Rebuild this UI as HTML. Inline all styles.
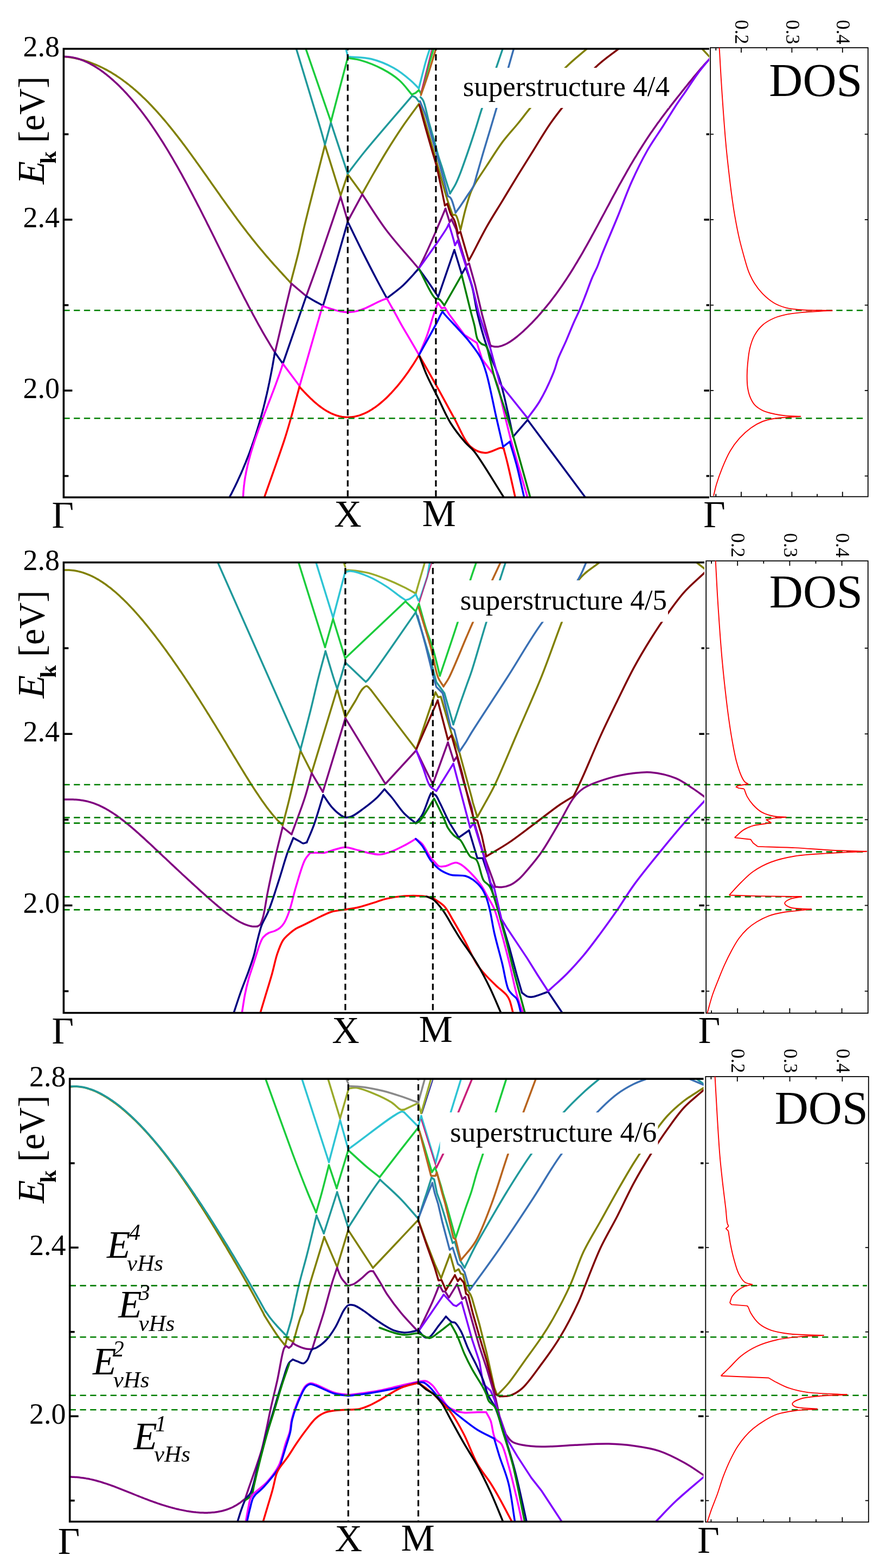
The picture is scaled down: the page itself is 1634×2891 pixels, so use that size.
<!DOCTYPE html>
<html><head><meta charset="utf-8"><title>Band structure and DOS of superstructures</title>
<style>html,body{margin:0;padding:0;background:#fff;}svg{display:block;}svg text{fill:#000;font-family:"Liberation Serif","Times New Roman",serif;}</style></head>
<body>
<svg xmlns="http://www.w3.org/2000/svg" width="1634" height="2891" viewBox="0 0 1634 2891">
<rect x="0" y="0" width="1634" height="2891" fill="#fff"/>
<clipPath id="c0"><rect x="117.4" y="90.0" width="1190.6" height="827.0"/></clipPath>
<g clip-path="url(#c0)" fill="none" stroke-width="3.5" stroke-linejoin="round" stroke-linecap="round">
<path d="M117.5,104.4 L120.0,104.6 L122.5,104.9 L125.1,105.1 L127.6,105.5 L130.1,105.8 L132.6,106.2 L135.1,106.7 L137.7,107.1 L140.2,107.7 L142.7,108.2 L145.2,108.8 L147.8,109.4 L150.3,110.1 L152.8,110.8 L155.3,111.5 L157.8,112.3 L160.4,113.1 L162.9,114.0 L165.4,114.9 L167.9,115.8 L170.4,116.8 L173.0,117.8 L175.5,118.8 L178.0,119.9 L180.5,121.0 L183.0,122.1 L185.6,123.3 L188.1,124.5 L190.6,125.8 L193.1,127.1 L195.7,128.4 L198.2,129.8 L200.7,131.2 L203.2,132.6 L205.7,134.1 L208.3,135.7 L210.8,137.2 L213.3,138.8 L215.8,140.5 L218.3,142.1 L220.9,143.9 L223.4,145.6 L225.9,147.4 L228.4,149.3 L230.9,151.1 L233.5,153.1 L236.0,155.0 L238.5,157.0 L241.0,159.1 L243.6,161.1 L246.1,163.3 L248.6,165.4 L251.1,167.6 L253.6,169.8 L256.2,172.1 L258.7,174.4 L261.2,176.8 L263.7,179.2 L266.2,181.6 L268.8,184.1 L271.3,186.6 L273.8,189.1 L276.3,191.7 L278.8,194.3 L281.4,197.0 L283.9,199.7 L286.4,202.4 L288.9,205.2 L291.5,208.0 L294.0,210.8 L296.5,213.7 L299.0,216.6 L301.5,219.5 L304.1,222.5 L306.6,225.5 L309.1,228.5 L311.6,231.6 L314.1,234.7 L316.7,237.8 L319.2,241.0 L321.7,244.1 L324.2,247.4 L326.8,250.6 L329.3,253.8 L331.8,257.1 L334.3,260.4 L336.8,263.8 L339.4,267.1 L341.9,270.5 L344.4,273.9 L346.9,277.3 L349.4,280.7 L352.0,284.2 L354.5,287.7 L357.0,291.2 L359.5,294.6 L362.0,298.2 L364.6,301.7 L367.1,305.2 L369.6,308.8 L372.1,312.3 L374.7,315.9 L377.2,319.4 L379.7,323.0 L382.2,326.6 L384.7,330.2 L387.3,333.8 L389.8,337.4 L392.3,340.9 L394.8,344.5 L397.3,348.1 L399.9,351.7 L402.4,355.3 L404.9,358.8 L407.4,362.4 L409.9,366.0 L412.5,369.5 L415.0,373.1 L417.5,376.6 L420.0,380.1 L422.6,383.6 L425.1,387.1 L427.6,390.6 L430.1,394.1 L432.6,397.5 L435.2,400.9 L437.7,404.4 L440.2,407.8 L442.7,411.1 L445.2,414.5 L447.8,417.8 L450.3,421.1 L452.8,424.4 L455.3,427.7 L457.8,431.0 L460.4,434.2 L462.9,437.4 L465.4,440.6 L467.9,443.7 L470.5,446.9 L473.0,450.0 L475.5,453.1 L478.0,456.1 L480.5,459.2 L483.1,462.2 L485.6,465.2 L488.1,468.1 L490.6,471.1 L493.1,474.0 L495.7,476.9 L498.2,479.8 L500.7,482.7 L503.2,485.5 L505.7,488.3 L508.3,491.1 L510.8,493.9 L513.3,496.7 L515.8,499.5 L518.4,502.2 L520.9,505.0 L523.4,507.7 L525.9,510.4 L528.4,513.2 L531.0,515.9 L533.5,518.6 L536.0,521.3" stroke="#808000"/>
<path d="M536.0,521.5 C540.7,503.5 545.8,484.7 550.0,467.5 C553.8,452.0 556.6,437.6 560.0,422.9 C563.4,408.4 566.1,397.7 570.5,380.0 C577.7,351.4 589.7,305.0 599.3,267.5" stroke="#808000"/>
<path d="M599.3,267.5 L628.2,360.2" stroke="#808000"/>
<path d="M628.2,360.2 L641.3,321.2" stroke="#808000"/>
<path d="M641.3,321.2 L667.8,357.5" stroke="#808000"/>
<path d="M667.8,357.5 C675.2,344.3 682.5,331.0 690.0,318.0 C697.4,305.2 704.3,293.2 712.4,280.0 C721.4,265.3 731.9,248.9 742.0,234.0 C751.9,219.5 762.3,205.9 772.5,191.8" stroke="#808000"/>
<path d="M772.5,191.8 C774.0,195.1 775.2,197.1 776.9,201.7 C780.5,211.4 786.5,233.3 790.9,248.4 C795.0,262.5 799.4,278.0 802.6,289.3 C804.9,297.4 806.0,301.4 808.5,310.0 C812.6,324.4 819.9,352.0 824.9,367.9 C828.4,379.2 831.5,387.0 834.8,396.5" stroke="#808000"/>
<path d="M834.8,396.5 C836.6,396.5 838.6,395.3 840.3,396.5 C844.1,399.2 846.2,414.1 849.1,422.9" stroke="#808000"/>
<path d="M849.4,423.7 C852.5,410.7 855.4,397.0 858.8,384.7 C861.9,373.5 865.4,361.4 868.8,353.0 C871.2,347.1 872.8,344.3 876.1,338.6 C881.2,329.7 890.0,317.2 897.7,305.4 C906.6,291.9 916.5,275.5 926.5,262.1 C935.8,249.6 946.5,238.5 955.4,227.5 C963.4,217.7 968.2,210.9 977.7,199.4 C993.6,180.3 1022.9,144.7 1042.8,124.7 C1057.7,109.7 1070.7,100.2 1084.6,88.0" stroke="#808000"/>
<path d="M1293.0,88.0 L1309.0,105.0" stroke="#808000"/>
<path d="M117.5,104.6 L120.0,104.6 L122.6,104.6 L125.1,104.8 L127.6,105.0 L130.1,105.3 L132.7,105.7 L135.2,106.1 L137.7,106.7 L140.3,107.3 L142.8,108.0 L145.3,108.7 L147.9,109.6 L150.4,110.5 L152.9,111.4 L155.4,112.5 L158.0,113.6 L160.5,114.7 L163.0,116.0 L165.6,117.3 L168.1,118.6 L170.6,120.0 L173.2,121.5 L175.7,123.0 L178.2,124.6 L180.7,126.2 L183.3,127.9 L185.8,129.7 L188.3,131.5 L190.9,133.3 L193.4,135.3 L195.9,137.2 L198.5,139.3 L201.0,141.3 L203.5,143.5 L206.0,145.6 L208.6,147.9 L211.1,150.2 L213.6,152.5 L216.2,154.9 L218.7,157.3 L221.2,159.8 L223.8,162.4 L226.3,164.9 L228.8,167.6 L231.3,170.3 L233.9,173.0 L236.4,175.8 L238.9,178.7 L241.5,181.6 L244.0,184.5 L246.5,187.5 L249.1,190.5 L251.6,193.6 L254.1,196.8 L256.6,200.0 L259.2,203.2 L261.7,206.5 L264.2,209.8 L266.8,213.2 L269.3,216.6 L271.8,220.1 L274.4,223.6 L276.9,227.2 L279.4,230.8 L281.9,234.5 L284.5,238.2 L287.0,242.0 L289.5,245.8 L292.1,249.7 L294.6,253.6 L297.1,257.5 L299.7,261.5 L302.2,265.5 L304.7,269.6 L307.2,273.7 L309.8,277.9 L312.3,282.1 L314.8,286.3 L317.4,290.6 L319.9,295.0 L322.4,299.3 L324.9,303.7 L327.5,308.2 L330.0,312.7 L332.5,317.2 L335.1,321.7 L337.6,326.3 L340.1,330.9 L342.7,335.6 L345.2,340.3 L347.7,345.0 L350.2,349.8 L352.8,354.6 L355.3,359.4 L357.8,364.2 L360.4,369.1 L362.9,374.0 L365.4,378.9 L368.0,383.8 L370.5,388.8 L373.0,393.8 L375.5,398.8 L378.1,403.8 L380.6,408.8 L383.1,413.9 L385.7,418.9 L388.2,424.0 L390.7,429.1 L393.3,434.2 L395.8,439.3 L398.3,444.4 L400.8,449.5 L403.4,454.7 L405.9,459.8 L408.4,464.9 L411.0,470.1 L413.5,475.2 L416.0,480.3 L418.6,485.4 L421.1,490.5 L423.6,495.7 L426.1,500.8 L428.7,505.8 L431.2,510.9 L433.7,516.0 L436.3,521.0 L438.8,526.1 L441.3,531.1 L443.9,536.1 L446.4,541.0 L448.9,546.0 L451.4,550.9 L454.0,555.8 L456.5,560.6 L459.0,565.5 L461.6,570.3 L464.1,575.0 L466.6,579.8 L469.2,584.5 L471.7,589.1 L474.2,593.8 L476.7,598.3 L479.3,602.9 L481.8,607.4 L484.3,611.8 L486.9,616.3 L489.4,620.6 L491.9,624.9 L494.5,629.2 L497.0,633.4 L499.5,637.6 L502.0,641.7 L504.6,645.8 L507.1,649.8" stroke="#800080"/>
<path d="M507.1,650.0 C512.1,629.0 517.0,608.1 522.0,587.0 C527.1,565.7 532.3,544.3 537.5,522.9" stroke="#800080"/>
<path d="M537.5,522.9 L564.8,546.0" stroke="#800080"/>
<path d="M564.8,546.0 C572.7,524.0 579.7,505.2 588.5,480.0 C600.2,446.6 615.0,402.0 628.2,363.0" stroke="#800080"/>
<path d="M628.2,363.0 L641.3,407.8" stroke="#800080"/>
<path d="M641.3,407.8 L668.1,358.3" stroke="#800080"/>
<path d="M668.1,358.3 C682.9,380.3 695.9,402.3 712.4,424.2 C730.3,447.9 752.3,471.6 772.2,495.3" stroke="#800080"/>
<path d="M772.2,495.3 C776.4,486.7 780.2,479.1 784.7,469.5 C790.3,457.4 797.0,442.4 803.1,428.4 C809.3,414.0 815.4,399.1 821.6,384.5" stroke="#800080"/>
<path d="M821.6,384.5 L829.3,409.7 L832.6,404.2 L841.4,422.9 L844.1,436.1 L860.1,489.2 L865.1,485.5 L876.2,525.1 L889.1,580.0 L905.0,639.0" stroke="#800080"/>
<path d="M905.0,637.1 L907.5,638.1 L910.0,638.8 L912.6,639.2 L915.1,639.3 L917.6,639.2 L920.1,638.9 L922.7,638.3 L925.2,637.6 L927.7,636.7 L930.2,635.7 L932.8,634.5 L935.3,633.2 L937.8,631.7 L940.4,630.2 L942.9,628.5 L945.4,626.8 L947.9,625.0 L950.5,623.0 L953.0,621.1 L955.5,619.0 L958.0,616.9 L960.5,614.7 L963.1,612.5 L965.6,610.2 L968.1,607.8 L970.6,605.4 L973.2,603.0 L975.7,600.5 L978.2,598.0 L980.8,595.4 L983.3,592.8 L985.8,590.1 L988.3,587.4 L990.9,584.7 L993.4,581.9 L995.9,579.0 L998.4,576.1 L1001.0,573.2 L1003.5,570.2 L1006.0,567.2 L1008.5,564.1 L1011.0,561.0 L1013.6,557.8 L1016.1,554.6 L1018.6,551.3 L1021.1,548.0 L1023.7,544.6 L1026.2,541.2 L1028.7,537.7 L1031.2,534.2 L1033.8,530.6 L1036.3,527.0 L1038.8,523.3 L1041.3,519.5 L1043.9,515.7 L1046.4,511.9 L1048.9,508.0 L1051.5,504.0 L1054.0,500.0 L1056.5,496.0 L1059.0,491.8 L1061.5,487.7 L1064.1,483.5 L1066.6,479.2 L1069.1,475.0 L1071.7,470.6 L1074.2,466.3 L1076.7,461.8 L1079.2,457.4 L1081.8,452.9 L1084.3,448.4 L1086.8,443.8 L1089.3,439.3 L1091.8,434.7 L1094.4,430.0 L1096.9,425.4 L1099.4,420.7 L1102.0,416.0 L1104.5,411.3 L1107.0,406.6 L1109.5,401.9 L1112.0,397.2 L1114.6,392.5 L1117.1,387.7 L1119.6,383.0 L1122.2,378.3 L1124.7,373.6 L1127.2,368.8 L1129.7,364.1 L1132.2,359.5 L1134.8,354.8 L1137.3,350.2 L1139.8,345.5 L1142.3,340.9 L1144.9,336.4 L1147.4,331.8 L1149.9,327.3 L1152.5,322.8 L1155.0,318.4 L1157.5,313.9 L1160.0,309.6 L1162.5,305.2 L1165.1,300.9 L1167.6,296.7 L1170.1,292.4 L1172.7,288.3 L1175.2,284.1 L1177.7,280.0 L1180.2,276.0 L1182.8,272.0 L1185.3,268.0 L1187.8,264.1 L1190.3,260.2 L1192.8,256.4 L1195.4,252.6 L1197.9,248.8 L1200.4,245.1 L1203.0,241.4 L1205.5,237.8 L1208.0,234.2 L1210.5,230.7 L1213.0,227.1 L1215.6,223.7 L1218.1,220.2 L1220.6,216.8 L1223.2,213.4 L1225.7,210.0 L1228.2,206.7 L1230.7,203.4 L1233.2,200.1 L1235.8,196.8 L1238.3,193.5 L1240.8,190.3 L1243.3,187.1 L1245.9,183.8 L1248.4,180.6 L1250.9,177.5 L1253.5,174.3 L1256.0,171.1 L1258.5,167.9 L1261.0,164.8 L1263.5,161.6 L1266.1,158.5 L1268.6,155.4 L1271.1,152.2 L1273.7,149.1 L1276.2,146.0 L1278.7,142.9 L1281.2,139.9 L1283.8,136.8 L1286.3,133.8 L1288.8,130.8 L1291.3,127.8 L1293.8,124.9 L1296.4,122.1 L1298.9,119.2 L1301.4,116.5 L1304.0,113.8 L1306.5,111.2 L1309.0,108.8" stroke="#800080"/>
<path d="M422.7,918.0 L424.0,915.5 L425.3,912.9 L426.7,910.4 L427.9,907.9 L429.2,905.4 L430.5,902.8 L431.7,900.3 L433.0,897.8 L434.2,895.2 L435.4,892.7 L436.6,890.2 L437.8,887.7 L439.0,885.1 L440.1,882.6 L441.3,880.1 L442.4,877.5 L443.6,875.0 L444.7,872.5 L445.8,870.0 L446.9,867.4 L448.0,864.9 L449.0,862.4 L450.1,859.8 L451.1,857.3 L452.2,854.8 L453.2,852.3 L454.2,849.7 L455.2,847.2 L456.2,844.7 L457.2,842.2 L458.2,839.6 L459.1,837.1 L460.1,834.6 L461.0,832.0 L461.9,829.5 L462.8,827.0 L463.8,824.5 L464.7,821.9 L465.5,819.4 L466.4,816.9 L467.3,814.3 L468.1,811.8 L469.0,809.3 L469.8,806.8 L470.7,804.2 L471.5,801.7 L472.3,799.2 L473.1,796.6 L473.9,794.1 L474.7,791.6 L475.4,789.1 L476.2,786.5 L477.0,784.0 L477.7,781.5 L478.5,778.9 L479.2,776.4 L479.9,773.9 L480.6,771.4 L481.3,768.8 L482.0,766.3 L482.7,763.8 L483.4,761.2 L484.1,758.7 L484.7,756.2 L485.4,753.7 L486.1,751.1 L486.7,748.6 L487.3,746.1 L488.0,743.5 L488.6,741.0 L489.2,738.5 L489.8,736.0 L490.4,733.4 L491.0,730.9 L491.6,728.4 L492.2,725.8 L492.7,723.3 L493.3,720.8 L493.9,718.3 L494.4,715.7 L495.0,713.2 L495.5,710.7 L496.0,708.2 L496.6,705.6 L497.1,703.1 L497.6,700.6 L498.1,698.0 L498.6,695.5 L499.1,693.0 L499.6,690.5 L500.1,687.9 L500.6,685.4 L501.1,682.9 L501.5,680.3 L502.0,677.8 L502.5,675.3 L502.9,672.8 L503.4,670.2 L503.8,667.7 L504.3,665.2 L504.7,662.6 L505.1,660.1 L505.6,657.6 L506.0,655.1 L506.4,652.5 L506.8,650.0" stroke="#000080"/>
<path d="M507.1,650.0 L521.6,670.6" stroke="#000080"/>
<path d="M521.6,670.6 L564.8,546.0" stroke="#000080"/>
<path d="M564.8,546.0 C569.9,549.0 574.9,552.1 580.0,555.0 C585.2,557.9 590.5,560.7 595.8,563.5" stroke="#000080"/>
<path d="M595.8,563.5 C604.2,535.7 613.1,506.8 621.0,480.0 C628.2,455.4 634.5,432.5 641.3,408.8" stroke="#000080"/>
<path d="M641.3,408.8 C651.3,429.1 661.2,449.8 671.2,469.6 C680.8,488.6 692.1,510.5 700.0,525.3 C705.3,535.2 709.0,541.7 713.5,549.9" stroke="#000080"/>
<path d="M713.5,549.9 C723.4,542.0 733.8,535.0 743.3,526.2 C753.4,516.9 762.6,505.6 772.2,495.3" stroke="#000080"/>
<path d="M772.2,495.3 C778.4,504.0 784.9,512.7 790.9,521.4 C796.9,530.0 802.4,538.7 808.2,547.3" stroke="#000080"/>
<path d="M808.2,547.3 L837.9,460.8" stroke="#000080"/>
<path d="M837.9,460.8 L851.5,505.3" stroke="#000080"/>
<path d="M851.5,505.3 L858.9,492.9" stroke="#000080"/>
<path d="M858.9,492.9 C863.0,505.7 867.8,517.6 871.3,531.3 C875.2,546.5 876.8,563.2 880.9,580.0 C885.4,598.5 890.9,618.3 897.4,637.7 C904.3,658.2 915.1,679.4 921.6,700.0 C927.8,719.4 931.7,739.4 936.0,757.7 C939.9,774.2 942.9,789.3 946.3,805.1" stroke="#000080"/>
<path d="M946.3,805.1 L973.1,774.2" stroke="#000080"/>
<path d="M973.1,774.2 L1080.2,918.0" stroke="#000080"/>
<path d="M448.4,918.0 L448.4,915.4 L448.6,912.9 L448.7,910.3 L448.9,907.8 L449.0,905.2 L449.3,902.7 L449.5,900.1 L449.8,897.6 L450.0,895.0 L450.4,892.5 L450.7,889.9 L451.0,887.4 L451.4,884.8 L451.8,882.3 L452.2,879.7 L452.7,877.2 L453.2,874.6 L453.6,872.1 L454.1,869.5 L454.7,867.0 L455.2,864.4 L455.8,861.9 L456.3,859.3 L456.9,856.8 L457.6,854.2 L458.2,851.7 L458.8,849.1 L459.5,846.6 L460.2,844.0 L460.9,841.5 L461.6,838.9 L462.3,836.4 L463.1,833.8 L463.8,831.3 L464.6,828.7 L465.4,826.2 L466.1,823.6 L467.0,821.1 L467.8,818.5 L468.6,816.0 L469.4,813.4 L470.3,810.9 L471.1,808.3 L472.0,805.8 L472.9,803.2 L473.8,800.7 L474.7,798.1 L475.6,795.6 L476.5,793.0 L477.4,790.5 L478.4,787.9 L479.3,785.4 L480.2,782.8 L481.2,780.3 L482.1,777.7 L483.1,775.2 L484.1,772.6 L485.0,770.1 L486.0,767.5 L487.0,765.0 L487.9,762.4 L488.9,759.9 L489.9,757.3 L490.9,754.8 L491.9,752.2 L492.9,749.7 L493.8,747.1 L494.8,744.6 L495.8,742.0 L496.8,739.5 L497.8,736.9 L498.8,734.4 L499.8,731.8 L500.7,729.3 L501.7,726.7 L502.7,724.2 L503.7,721.6 L504.6,719.1 L505.6,716.5 L506.6,714.0 L507.5,711.4 L508.5,708.9 L509.4,706.3 L510.3,703.8 L511.3,701.2 L512.2,698.7 L513.1,696.1 L514.0,693.6 L514.9,691.0 L515.8,688.5 L516.7,685.9 L517.6,683.4 L518.4,680.8 L519.3,678.3 L520.1,675.7 L521.0,673.2 L521.8,670.6" stroke="#ff00ff"/>
<path d="M521.6,670.6 L552.5,711.8" stroke="#ff00ff"/>
<path d="M552.5,711.8 L594.7,564.5" stroke="#ff00ff"/>
<path d="M594.7,564.4 L597.3,565.1 L599.9,565.9 L602.4,566.8 L605.0,567.6 L607.6,568.5 L610.2,569.3 L612.8,570.1 L615.4,570.9 L617.9,571.7 L620.5,572.4 L623.1,573.0 L625.7,573.6 L628.3,574.2 L630.9,574.6 L633.4,575.0 L636.0,575.2 L638.6,575.4 L641.2,575.5 L643.8,575.5 L646.4,575.3 L648.9,575.1 L651.5,574.8 L654.1,574.4 L656.7,573.9 L659.3,573.3 L661.8,572.5 L664.4,571.8 L667.0,570.9 L669.6,569.9 L672.2,568.9 L674.8,567.8 L677.3,566.6 L679.9,565.4 L682.5,564.2 L685.1,562.9 L687.7,561.6 L690.3,560.3 L692.8,559.0 L695.4,557.7 L698.0,556.5 L700.6,555.3 L703.2,554.1 L705.8,553.0 L708.3,552.1 L710.9,551.2 L713.5,550.5" stroke="#ff00ff"/>
<path d="M713.5,550.4 C717.5,557.6 721.4,564.4 725.6,571.9 C730.2,580.2 735.4,590.2 739.9,598.2 C743.7,605.0 747.2,610.7 750.9,616.9 C754.6,623.1 758.3,629.4 761.9,635.6 C765.5,641.7 769.0,647.9 772.5,654.0" stroke="#ff00ff"/>
<path d="M773.0,654.2 C777.8,642.3 783.1,630.7 787.5,618.5 C792.0,606.0 796.1,590.9 799.8,580.0 C802.6,571.8 805.0,565.7 807.6,558.5" stroke="#ff00ff"/>
<path d="M807.6,558.5 L814.4,568.3 L820.6,567.1 L828.7,580.0 L856.2,617.1 L879.5,632.2 L889.1,662.4 L909.7,689.9 L918.0,710.5 L931.9,770.0 L942.2,811.3 L973.1,918.0" stroke="#ff00ff"/>
<path d="M487.1,918.0 C499.5,882.6 515.3,839.1 524.2,811.9 C529.7,795.1 532.3,785.6 536.6,770.7 C541.6,753.1 547.1,732.2 552.3,713.0" stroke="#ff0000"/>
<path d="M552.3,713.2 L554.8,716.0 L557.4,718.7 L559.9,721.4 L562.4,724.1 L565.0,726.7 L567.5,729.3 L570.0,731.8 L572.5,734.3 L575.1,736.6 L577.6,739.0 L580.1,741.2 L582.7,743.4 L585.2,745.5 L587.7,747.6 L590.3,749.5 L592.8,751.4 L595.3,753.2 L597.9,754.9 L600.4,756.5 L602.9,758.0 L605.5,759.4 L608.0,760.7 L610.5,762.0 L613.0,763.1 L615.6,764.2 L618.1,765.1 L620.6,766.0 L623.2,766.7 L625.7,767.4 L628.2,767.9 L630.8,768.4 L633.3,768.8 L635.8,769.0 L638.4,769.2 L640.9,769.3 L643.4,769.2 L645.9,769.1 L648.5,768.9 L651.0,768.6 L653.5,768.2 L656.1,767.6 L658.6,767.0 L661.1,766.4 L663.7,765.6 L666.2,764.7 L668.7,763.7 L671.3,762.7 L673.8,761.5 L676.3,760.3 L678.9,759.0 L681.4,757.6 L683.9,756.1 L686.4,754.5 L689.0,752.8 L691.5,751.1 L694.0,749.3 L696.6,747.4 L699.1,745.4 L701.6,743.4 L704.2,741.2 L706.7,739.0 L709.2,736.7 L711.8,734.4 L714.3,731.9 L716.8,729.4 L719.3,726.8 L721.9,724.2 L724.4,721.4 L726.9,718.6 L729.5,715.7 L732.0,712.8 L734.5,709.8 L737.1,706.7 L739.6,703.5 L742.1,700.2 L744.7,696.9 L747.2,693.5 L749.7,690.0 L752.3,686.5 L754.8,682.8 L757.3,679.1 L759.8,675.3 L762.4,671.4 L764.9,667.4 L767.4,663.4 L770.0,659.2 L772.5,655.0" stroke="#ff0000"/>
<path d="M773.0,655.0 C783.8,674.0 794.6,692.8 805.3,711.9 C816.0,731.1 826.5,751.1 837.1,770.0 C847.4,788.3 856.1,813.0 868.0,823.6 C876.2,830.8 885.6,834.6 894.8,835.0 C904.2,835.4 917.8,826.1 923.6,825.7 C926.0,825.6 927.1,826.4 928.8,826.7" stroke="#ff0000"/>
<path d="M928.8,826.7 C931.2,836.0 933.3,843.3 936.0,854.5 C940.1,871.3 945.6,896.8 950.4,918.0" stroke="#ff0000"/>
<path d="M773.0,655.5 C777.8,667.9 782.1,680.5 787.5,692.6 C792.9,704.8 798.8,715.4 805.3,728.4 C813.1,744.0 821.6,764.8 831.0,780.0 C839.3,793.3 849.6,806.0 857.7,815.4 C863.6,822.2 867.6,823.8 874.2,831.9 C888.0,849.0 911.3,889.3 929.8,918.0" stroke="#000000"/>
<path d="M773.0,654.2 C783.3,635.4 796.9,611.5 804.0,597.9 C808.0,590.3 810.6,584.2 812.9,580.0 C814.2,577.6 815.1,576.3 816.2,574.5" stroke="#0000ff"/>
<path d="M816.2,574.5 C817.6,576.3 818.5,577.7 820.4,580.0 C824.0,584.3 830.8,591.2 836.9,597.9 C844.6,606.3 854.8,616.5 863.0,626.7 C871.3,637.1 880.5,648.5 886.4,659.7 C891.6,669.6 893.7,677.3 897.4,689.9 C903.3,710.1 909.9,746.0 915.4,770.0 C919.9,789.7 923.7,805.7 927.8,823.6" stroke="#0000ff"/>
<path d="M927.8,823.6 L940.1,814.4" stroke="#0000ff"/>
<path d="M940.1,814.4 C944.2,828.5 948.4,841.2 952.5,856.6 C957.4,875.1 962.1,897.5 966.9,918.0" stroke="#0000ff"/>
<path d="M772.2,495.3 C783.2,479.9 795.8,462.7 805.2,449.0 C812.5,438.3 820.6,426.5 824.3,420.0 C826.1,416.9 826.6,415.3 827.8,412.9" stroke="#8000ff"/>
<path d="M827.8,412.9 C830.5,421.9 833.9,432.8 835.9,440.0 C837.3,444.8 838.0,448.1 839.1,452.1" stroke="#8000ff"/>
<path d="M839.1,452.1 L844.1,443.5" stroke="#8000ff"/>
<path d="M844.1,443.5 L858.9,489.2 L871.3,528.8 L883.6,580.0 L904.2,641.8 L921.8,707.0 L973.1,771.1" stroke="#8000ff"/>
<path d="M973.1,771.1 C980.5,760.7 988.0,752.1 995.2,740.0 C1004.2,724.8 1015.2,700.9 1021.2,686.0 C1025.3,675.9 1026.3,669.0 1029.8,660.0 C1033.8,649.8 1039.5,639.0 1044.2,628.1 C1049.1,616.8 1054.2,603.7 1058.7,593.5 C1062.3,585.4 1065.4,579.6 1068.8,571.8 C1072.6,562.9 1076.5,552.7 1080.3,543.0 C1084.2,533.0 1087.9,521.9 1091.8,512.7 C1095.1,504.8 1098.8,498.4 1101.9,491.1 C1104.9,483.9 1106.4,478.6 1110.0,469.4 C1116.6,452.8 1129.6,422.8 1138.9,400.0 C1147.9,378.1 1155.5,356.0 1164.9,335.2 C1173.9,315.2 1183.7,295.3 1193.8,277.5 C1203.0,261.4 1213.7,246.8 1222.6,232.8 C1230.4,220.6 1236.9,209.4 1244.2,198.2 C1251.3,187.3 1258.7,177.0 1265.9,166.4 C1273.1,155.8 1280.1,144.7 1287.5,134.7 C1294.5,125.3 1301.8,116.9 1309.0,108.0" stroke="#8000ff"/>
<path d="M772.5,495.5 C782.5,513.6 794.7,543.9 802.5,549.8 C805.2,551.8 807.4,550.0 809.8,551.5 C813.2,553.6 816.3,559.2 819.5,563.0" stroke="#008000"/>
<path d="M819.5,563.0 L851.5,507.0" stroke="#008000"/>
<path d="M851.5,507.0 C856.9,528.7 863.2,554.9 867.6,572.1 C870.5,583.4 872.7,590.8 875.0,600.0 C877.2,608.8 877.8,620.1 880.9,626.0 C882.8,629.8 885.3,632.0 888.0,634.0 C890.4,635.8 893.8,635.2 896.0,637.7 C899.6,641.8 900.7,651.8 903.0,660.0 C905.8,669.8 907.4,679.5 911.1,692.6 C916.9,713.0 929.2,748.2 936.0,770.0 C940.9,785.9 943.5,794.3 948.4,811.3 C956.3,838.6 968.3,882.4 978.2,918.0" stroke="#008000"/>
<path d="M773.4,193.5 C777.3,207.9 781.1,222.5 785.1,236.7 C789.0,250.5 793.5,266.5 796.8,277.6 C799.0,285.3 800.9,291.0 802.6,297.0 C804.0,302.0 804.8,304.6 806.3,311.0 C809.6,325.1 815.8,356.3 820.5,378.9" stroke="#800000"/>
<path d="M820.5,378.9 L824.9,375.6" stroke="#800000"/>
<path d="M824.9,375.6 C827.1,382.2 829.0,389.9 831.5,395.4 C833.5,399.7 836.2,401.9 838.1,406.4 C840.8,412.7 842.5,422.5 844.7,430.5" stroke="#800000"/>
<path d="M844.7,430.5 L849.1,427.3" stroke="#800000"/>
<path d="M849.1,427.3 L864.5,480.6" stroke="#800000"/>
<path d="M864.5,480.6 C866.4,477.1 867.7,474.9 870.3,470.0 C876.1,459.2 888.2,434.7 897.7,417.9 C906.9,401.5 916.9,386.2 926.5,370.3 C936.1,354.4 945.7,338.4 955.4,322.7 C965.0,307.2 974.6,291.9 984.2,276.5 C993.8,261.1 1003.7,244.1 1013.1,230.4 C1021.0,218.9 1026.5,211.8 1036.2,199.4 C1051.6,179.7 1077.6,144.4 1097.6,124.7 C1113.2,109.3 1128.2,100.2 1143.5,88.0" stroke="#800000"/>
<path d="M545.8,88.0 C554.4,116.2 563.4,146.0 571.5,172.7 C578.7,196.6 587.1,223.4 592.1,240.7 C595.2,251.3 596.9,257.9 599.3,266.5" stroke="#20999b"/>
<path d="M599.3,266.5 L610.3,226.3" stroke="#20999b"/>
<path d="M610.3,226.3 L641.2,320.0" stroke="#20999b"/>
<path d="M641.2,320.0 C651.5,306.7 659.0,296.3 672.2,280.0 C693.8,253.4 730.7,211.2 760.0,176.8" stroke="#20999b"/>
<path d="M760.0,176.8 C762.1,177.8 764.5,178.2 766.4,179.7 C768.7,181.5 770.5,184.8 772.5,187.3" stroke="#20999b"/>
<path d="M775.5,179.0 C777.2,181.1 778.9,182.1 780.5,185.4 C784.2,192.8 787.4,211.8 791.0,225.1 C794.7,238.6 799.3,254.2 802.6,266.0 C805.1,275.1 806.9,282.7 809.1,290.0 C811.0,296.3 812.9,301.2 814.9,307.5 C817.2,314.7 819.4,322.9 821.9,330.9 C824.5,339.3 827.3,348.0 830.0,356.5" stroke="#20999b"/>
<path d="M829.9,356.9 C833.3,351.3 836.9,346.0 840.0,340.0 C843.2,333.7 845.6,327.6 848.7,319.8 C852.7,309.6 857.2,296.4 861.6,283.8 C866.4,270.1 871.5,254.8 876.1,240.5 C880.6,226.6 883.8,215.1 889.0,199.4 C896.1,178.1 908.2,145.1 915.3,124.6 C920.3,110.3 923.6,100.2 927.8,88.0" stroke="#20999b"/>
<path d="M774.6,186.6 C778.1,195.6 781.7,203.5 785.1,213.5 C789.2,225.6 792.9,240.7 796.8,254.3 C800.7,267.9 805.7,285.5 808.5,295.2 C810.0,300.5 810.5,301.9 812.0,307.5 C815.2,319.1 821.3,343.4 826.0,361.3" stroke="#3a70b4"/>
<path d="M826.0,361.3 C827.8,362.8 829.8,363.2 831.5,365.7 C834.9,370.6 837.4,383.3 840.3,392.1" stroke="#3a70b4"/>
<path d="M840.3,392.1 C843.1,388.2 845.6,384.9 848.7,380.4 C852.9,374.3 858.8,365.5 863.1,358.8 C866.8,353.1 870.6,348.6 873.2,342.9 C875.9,337.1 876.7,331.6 878.9,324.1 C882.1,313.2 886.5,297.5 890.5,283.8 C894.7,269.6 899.2,254.7 903.5,240.5 C907.6,226.6 911.1,215.1 915.7,199.4 C921.9,178.2 931.6,145.2 937.5,124.7 C941.7,110.3 944.5,100.2 948.0,88.0" stroke="#3a70b4"/>
<path d="M637.5,88.0 L641.2,103.0" stroke="#2ec4d4"/>
<path d="M641.2,104.5 C655.7,105.9 670.7,105.4 684.8,108.8 C699.0,112.3 713.6,118.4 726.0,125.3 C737.5,131.7 748.7,140.9 757.0,148.0 C763.2,153.3 767.3,158.0 772.4,163.0" stroke="#2ec4d4"/>
<path d="M772.4,163.0 C774.7,154.0 777.1,144.5 779.3,135.9 C781.4,128.0 783.1,120.9 785.3,113.2 C787.7,105.0 790.6,96.4 793.3,88.0" stroke="#2ec4d4"/>
<path d="M563.3,88.0 L610.3,224.2" stroke="#1ccc3c"/>
<path d="M610.3,224.2 L641.2,106.8" stroke="#1ccc3c"/>
<path d="M641.2,106.8 C648.9,108.2 655.6,108.4 664.2,110.9 C676.1,114.3 693.0,120.8 705.5,127.4 C716.9,133.4 727.3,140.0 736.4,148.0 C745.3,155.8 751.9,165.6 759.6,174.4" stroke="#1ccc3c"/>
<path d="M759.6,174.4 L766.4,171.4 L772.5,166.1 L776.3,172.2" stroke="#1ccc3c"/>
<path d="M776.3,172.2 C777.8,167.7 779.3,163.8 780.8,158.6 C782.8,151.7 784.3,143.7 786.8,134.4 C790.3,121.4 795.7,103.5 800.2,88.0" stroke="#1ccc3c"/>
<path d="M776.3,170.7 L797.0,88.0" stroke="#c8207a" stroke-width="2"/>
<path d="M776.3,175.2 C780.3,163.6 784.2,153.2 788.4,140.4 C793.5,124.8 799.2,105.5 804.6,88.0" stroke="#b8641e"/>
</g>
<rect x="836" y="125" width="397" height="74" fill="#fff"/>
<text x="853.7" y="177.4" font-size="53">superstructure 4/4</text>
<line x1="117.4" y1="572.3" x2="1597.8" y2="572.3" stroke="#008000" stroke-width="2.6" stroke-dasharray="11.3,7.45"/>
<line x1="117.4" y1="771.3" x2="1597.8" y2="771.3" stroke="#008000" stroke-width="2.6" stroke-dasharray="11.3,7.45"/>
<line x1="641.3" y1="90.0" x2="641.3" y2="917.0" stroke="#000" stroke-width="3.2" stroke-dasharray="11.5,7.2" stroke-dashoffset="8.7"/>
<line x1="803.9" y1="90.0" x2="803.9" y2="917.0" stroke="#000" stroke-width="3.2" stroke-dasharray="11.5,7.2" stroke-dashoffset="8.7"/>
<path d="M1308.0,90.0 L117.4,90.0 L117.4,917.0 L1308.0,917.0" fill="none" stroke="#000" stroke-width="3.6"/>
<line x1="117.4" y1="247.5" x2="126.4" y2="247.5" stroke="#000" stroke-width="3.6"/>
<line x1="1302.6" y1="247.5" x2="1308.0" y2="247.5" stroke="#000" stroke-width="3.6"/>
<line x1="117.4" y1="405.0" x2="133.4" y2="405.0" stroke="#000" stroke-width="3.6"/>
<line x1="1298.4" y1="405.0" x2="1308.0" y2="405.0" stroke="#000" stroke-width="3.6"/>
<line x1="117.4" y1="562.6" x2="126.4" y2="562.6" stroke="#000" stroke-width="3.6"/>
<line x1="1302.6" y1="562.6" x2="1308.0" y2="562.6" stroke="#000" stroke-width="3.6"/>
<line x1="117.4" y1="720.1" x2="133.4" y2="720.1" stroke="#000" stroke-width="3.6"/>
<line x1="1298.4" y1="720.1" x2="1308.0" y2="720.1" stroke="#000" stroke-width="3.6"/>
<line x1="117.4" y1="877.6" x2="126.4" y2="877.6" stroke="#000" stroke-width="3.6"/>
<line x1="1302.6" y1="877.6" x2="1308.0" y2="877.6" stroke="#000" stroke-width="3.6"/>
<rect x="1310.0" y="88.0" width="290.8" height="827.7" fill="none" stroke="#000" stroke-width="1.8"/>
<line x1="1320.3" y1="88.0" x2="1320.3" y2="93.0" stroke="#000" stroke-width="1.8"/>
<line x1="1320.3" y1="915.7" x2="1320.3" y2="910.7" stroke="#000" stroke-width="1.8"/>
<line x1="1367.0" y1="88.0" x2="1367.0" y2="97.0" stroke="#000" stroke-width="1.8"/>
<line x1="1367.0" y1="915.7" x2="1367.0" y2="906.7" stroke="#000" stroke-width="1.8"/>
<line x1="1413.7" y1="88.0" x2="1413.7" y2="93.0" stroke="#000" stroke-width="1.8"/>
<line x1="1413.7" y1="915.7" x2="1413.7" y2="910.7" stroke="#000" stroke-width="1.8"/>
<line x1="1460.4" y1="88.0" x2="1460.4" y2="97.0" stroke="#000" stroke-width="1.8"/>
<line x1="1460.4" y1="915.7" x2="1460.4" y2="906.7" stroke="#000" stroke-width="1.8"/>
<line x1="1507.1" y1="88.0" x2="1507.1" y2="93.0" stroke="#000" stroke-width="1.8"/>
<line x1="1507.1" y1="915.7" x2="1507.1" y2="910.7" stroke="#000" stroke-width="1.8"/>
<line x1="1553.8" y1="88.0" x2="1553.8" y2="97.0" stroke="#000" stroke-width="1.8"/>
<line x1="1553.8" y1="915.7" x2="1553.8" y2="906.7" stroke="#000" stroke-width="1.8"/>
<line x1="1310.0" y1="247.5" x2="1316.0" y2="247.5" stroke="#000" stroke-width="1.8"/>
<line x1="1594.8" y1="247.5" x2="1600.8" y2="247.5" stroke="#000" stroke-width="1.8"/>
<line x1="1310.0" y1="405.0" x2="1316.0" y2="405.0" stroke="#000" stroke-width="1.8"/>
<line x1="1594.8" y1="405.0" x2="1600.8" y2="405.0" stroke="#000" stroke-width="1.8"/>
<line x1="1310.0" y1="562.6" x2="1316.0" y2="562.6" stroke="#000" stroke-width="1.8"/>
<line x1="1594.8" y1="562.6" x2="1600.8" y2="562.6" stroke="#000" stroke-width="1.8"/>
<line x1="1310.0" y1="720.1" x2="1316.0" y2="720.1" stroke="#000" stroke-width="1.8"/>
<line x1="1594.8" y1="720.1" x2="1600.8" y2="720.1" stroke="#000" stroke-width="1.8"/>
<line x1="1310.0" y1="877.6" x2="1316.0" y2="877.6" stroke="#000" stroke-width="1.8"/>
<line x1="1594.8" y1="877.6" x2="1600.8" y2="877.6" stroke="#000" stroke-width="1.8"/>
<path d="M1326.6,88.1 C1327.7,106.7 1328.6,124.7 1329.8,143.9 C1331.1,164.5 1332.6,187.4 1334.1,207.7 C1335.5,226.3 1336.8,244.2 1338.3,261.0 C1339.6,276.0 1340.9,288.5 1342.6,303.5 C1344.5,320.3 1346.7,340.0 1349.0,356.8 C1351.0,371.8 1352.9,385.2 1355.4,399.4 C1357.9,413.6 1360.8,428.8 1363.9,441.9 C1366.6,453.4 1369.5,463.7 1372.4,473.9 C1375.1,483.4 1377.5,492.9 1380.9,501.3 C1384.0,509.0 1387.3,515.9 1391.5,522.6 C1395.8,529.4 1400.7,535.8 1406.5,541.7 C1412.7,547.9 1420.3,554.5 1427.7,558.8 C1434.5,562.8 1441.0,565.2 1449.0,567.3 C1458.4,569.8 1470.3,570.7 1481.0,571.5 C1491.6,572.3 1503.2,572.0 1512.9,572.2 C1521.0,572.4 1527.8,572.5 1535.3,572.6" fill="none" stroke="#ff0000" stroke-width="1.9" stroke-linejoin="round"/>
<path d="M1535.3,572.6 C1527.8,573.0 1521.0,573.2 1512.9,573.7 C1503.2,574.3 1491.6,574.7 1481.0,575.8 C1470.3,576.9 1458.5,578.0 1449.0,580.1 C1441.1,581.8 1434.6,583.5 1427.7,586.5 C1420.4,589.7 1412.5,593.9 1406.5,599.2 C1400.5,604.5 1395.4,611.3 1391.5,618.4 C1387.6,625.5 1385.1,633.4 1383.0,641.8 C1380.7,651.0 1379.7,662.5 1378.8,671.6 C1378.1,679.3 1377.7,685.8 1377.7,692.9 C1377.7,700.0 1377.8,707.5 1378.8,714.2 C1379.7,720.2 1380.9,725.9 1383.0,731.2 C1385.1,736.5 1387.7,741.9 1391.5,746.1 C1395.4,750.5 1400.8,754.0 1406.5,756.8 C1412.7,759.9 1420.6,761.6 1427.7,763.2 C1434.7,764.8 1441.4,765.6 1449.0,766.4 C1457.6,767.3 1467.5,767.3 1476.7,767.8" fill="none" stroke="#ff0000" stroke-width="1.9" stroke-linejoin="round"/>
<path d="M1476.7,767.8 C1467.5,768.4 1457.6,768.8 1449.0,769.5 C1441.4,770.1 1434.7,770.5 1427.7,771.7 C1420.6,773.0 1413.4,774.3 1406.5,777.0 C1399.2,779.9 1392.0,783.8 1385.2,788.7 C1377.8,794.0 1370.3,800.8 1363.9,807.9 C1357.5,815.0 1351.9,822.6 1346.8,831.3 C1341.1,840.9 1336.2,852.6 1331.9,863.2 C1327.8,873.2 1324.1,883.8 1321.3,893.0 C1319.0,900.6 1317.8,907.2 1316.0,914.3" fill="none" stroke="#ff0000" stroke-width="1.9" stroke-linejoin="round"/>
<text x="110.1" y="104.0" font-size="54" text-anchor="end">2.8</text>
<text x="110.1" y="419.0" font-size="54" text-anchor="end">2.4</text>
<text x="110.1" y="734.1" font-size="54" text-anchor="end">2.0</text>
<text transform="translate(1356.2,36.5) rotate(90)" font-size="36">0.2</text>
<text transform="translate(1449.6,36.5) rotate(90)" font-size="36">0.3</text>
<text transform="translate(1543.0,36.5) rotate(90)" font-size="36">0.4</text>
<text x="115.8" y="973" font-size="70" text-anchor="middle">Γ</text>
<text x="641.5" y="971" font-size="70" text-anchor="middle">X</text>
<text x="809.5" y="970.4" font-size="70" text-anchor="middle">M</text>
<text x="1317.6" y="971.5" font-size="70" text-anchor="middle">Γ</text>
<text x="1418.3" y="176.5" font-size="86">DOS</text>
<text transform="translate(81,263.5) rotate(-90)" font-size="67">[eV]</text>
<text transform="translate(80.5,339.7) rotate(-90)" font-size="70" font-style="italic">E</text>
<text transform="translate(103,302.0) rotate(-90)" font-size="42" font-weight="bold">k</text>
<clipPath id="c1"><rect x="117.4" y="1037.0" width="1181.6" height="830.5"/></clipPath>
<g clip-path="url(#c1)" fill="none" stroke-width="3.5" stroke-linejoin="round" stroke-linecap="round">
<path d="M117.2,1050.9 L119.7,1050.9 L122.2,1050.9 L124.8,1050.9 L127.3,1051.0 L129.8,1051.2 L132.3,1051.4 L134.9,1051.7 L137.4,1052.1 L139.9,1052.5 L142.5,1053.0 L145.0,1053.6 L147.5,1054.2 L150.0,1054.9 L152.6,1055.6 L155.1,1056.5 L157.6,1057.3 L160.1,1058.3 L162.7,1059.3 L165.2,1060.4 L167.7,1061.5 L170.2,1062.7 L172.8,1064.0 L175.3,1065.3 L177.8,1066.7 L180.3,1068.1 L182.9,1069.6 L185.4,1071.2 L187.9,1072.8 L190.4,1074.5 L193.0,1076.2 L195.5,1078.0 L198.0,1079.9 L200.5,1081.8 L203.1,1083.7 L205.6,1085.7 L208.1,1087.8 L210.6,1089.9 L213.2,1092.0 L215.7,1094.3 L218.2,1096.5 L220.7,1098.8 L223.2,1101.2 L225.8,1103.6 L228.3,1106.0 L230.8,1108.5 L233.4,1111.0 L235.9,1113.6 L238.4,1116.2 L240.9,1118.9 L243.5,1121.6 L246.0,1124.3 L248.5,1127.1 L251.0,1129.9 L253.6,1132.8 L256.1,1135.7 L258.6,1138.6 L261.1,1141.5 L263.7,1144.5 L266.2,1147.6 L268.7,1150.6 L271.2,1153.7 L273.8,1156.8 L276.3,1160.0 L278.8,1163.2 L281.3,1166.4 L283.9,1169.6 L286.4,1172.9 L288.9,1176.2 L291.4,1179.5 L294.0,1182.8 L296.5,1186.2 L299.0,1189.6 L301.5,1193.0 L304.1,1196.5 L306.6,1199.9 L309.1,1203.4 L311.6,1207.0 L314.2,1210.5 L316.7,1214.1 L319.2,1217.7 L321.7,1221.3 L324.3,1224.9 L326.8,1228.6 L329.3,1232.2 L331.8,1235.9 L334.4,1239.6 L336.9,1243.4 L339.4,1247.1 L341.9,1250.9 L344.5,1254.7 L347.0,1258.5 L349.5,1262.3 L352.0,1266.2 L354.6,1270.0 L357.1,1273.9 L359.6,1277.8 L362.1,1281.7 L364.7,1285.7 L367.2,1289.6 L369.7,1293.6 L372.2,1297.6 L374.8,1301.6 L377.3,1305.6 L379.8,1309.6 L382.3,1313.7 L384.9,1317.7 L387.4,1321.8 L389.9,1325.9 L392.4,1330.0 L395.0,1334.1 L397.5,1338.2 L400.0,1342.3 L402.5,1346.4 L405.1,1350.6 L407.6,1354.7 L410.1,1358.9 L412.6,1363.1 L415.2,1367.2 L417.7,1371.4 L420.2,1375.6 L422.7,1379.8 L425.3,1384.0 L427.8,1388.1 L430.3,1392.3 L432.8,1396.5 L435.4,1400.7 L437.9,1404.8 L440.4,1409.0 L442.9,1413.1 L445.5,1417.3 L448.0,1421.4 L450.5,1425.5 L453.0,1429.6 L455.6,1433.7 L458.1,1437.7 L460.6,1441.7 L463.1,1445.7 L465.7,1449.7 L468.2,1453.6 L470.7,1457.5 L473.2,1461.3 L475.8,1465.1 L478.3,1468.9 L480.8,1472.6 L483.3,1476.2 L485.9,1479.8 L488.4,1483.3 L490.9,1486.8 L493.4,1490.2 L496.0,1493.5 L498.5,1496.7 L501.0,1499.9 L503.5,1502.9 L506.1,1505.9 L508.6,1508.7 L511.1,1511.5 L513.6,1514.1 L516.2,1516.6 L518.7,1519.0 L521.2,1521.3" stroke="#808000"/>
<path d="M521.2,1521.9 C523.9,1511.3 527.0,1499.4 529.4,1490.0 C531.3,1482.6 532.2,1479.0 534.4,1470.0 C538.9,1451.4 547.6,1412.9 554.2,1384.3" stroke="#808000"/>
<path d="M554.2,1384.3 L574.8,1424.7" stroke="#808000"/>
<path d="M574.8,1424.7 L621.8,1270.6" stroke="#808000"/>
<path d="M621.8,1270.6 L636.9,1322.5" stroke="#808000"/>
<path d="M636.9,1322.5 C642.9,1312.7 649.5,1302.1 655.0,1293.0 C659.7,1285.2 663.7,1275.8 668.0,1271.0 C670.7,1268.0 673.5,1264.9 676.1,1265.0 C678.8,1265.1 681.4,1269.7 684.0,1272.0" stroke="#808000"/>
<path d="M684.0,1272.0 C696.0,1287.8 707.1,1302.6 720.0,1319.5 C734.7,1338.9 751.7,1361.1 767.6,1381.9" stroke="#808000"/>
<path d="M767.6,1381.9 L803.1,1276.4" stroke="#808000"/>
<path d="M803.1,1276.4 L808.0,1285.4 L813.0,1284.6 L832.7,1352.2 L847.6,1388.5 L870.0,1470.9 L872.1,1480.0 L880.3,1506.4" stroke="#808000"/>
<path d="M880.3,1506.4 C885.2,1497.6 889.9,1489.3 895.0,1480.0 C900.6,1469.7 905.8,1461.1 912.5,1447.2 C923.5,1424.3 938.9,1386.6 952.7,1354.5 C967.6,1319.8 984.9,1281.8 999.1,1246.3 C1012.6,1212.6 1024.2,1177.8 1036.2,1146.8 C1046.8,1119.4 1053.1,1089.0 1067.1,1069.6 C1078.3,1054.0 1094.4,1046.5 1108.0,1035.0" stroke="#808000"/>
<path d="M1282.0,1035.0 L1300.0,1049.0" stroke="#808000"/>
<path d="M633.3,1035.0 L636.6,1044.8" stroke="#9aaa2a"/>
<path d="M636.6,1051.4 C639.9,1051.4 642.3,1051.1 646.5,1051.4 C654.3,1052.0 668.5,1053.7 679.4,1056.4 C690.5,1059.2 701.5,1063.6 712.4,1067.9 C723.5,1072.3 735.7,1077.9 745.4,1082.7 C753.4,1086.6 759.7,1090.4 766.8,1094.3" stroke="#9aaa2a"/>
<path d="M766.8,1094.3 C769.0,1086.6 770.9,1079.8 773.4,1071.2 C776.5,1060.5 780.5,1047.1 784.0,1035.0" stroke="#9aaa2a"/>
<path d="M582.2,1035.0 L614.3,1138.8" stroke="#2ec4d4"/>
<path d="M614.3,1138.8 L636.6,1054.7" stroke="#2ec4d4"/>
<path d="M636.6,1054.7 C639.9,1054.2 642.3,1052.8 646.5,1053.1 C654.3,1053.6 668.7,1058.5 679.4,1063.0 C690.6,1067.7 702.4,1074.7 712.4,1081.1 C721.4,1086.9 730.5,1094.5 737.1,1099.2 C741.4,1102.3 744.3,1104.1 747.9,1106.6" stroke="#2ec4d4"/>
<path d="M747.9,1106.6 C750.4,1105.8 752.7,1105.5 755.3,1104.2 C758.8,1102.4 763.0,1098.7 766.8,1095.9" stroke="#2ec4d4"/>
<path d="M766.8,1095.9 L771.8,1107.5 L775.0,1102.5 L788.2,1063.0 L793.0,1035.0" stroke="#2ec4d4"/>
<path d="M773.4,1110.8 L797.0,1035.0" stroke="#c8207a" stroke-width="2"/>
<path d="M550.0,1035.0 L599.5,1193.2" stroke="#1ccc3c"/>
<path d="M599.5,1193.2 L614.3,1141.3" stroke="#1ccc3c"/>
<path d="M614.3,1141.3 L636.6,1213.8" stroke="#1ccc3c"/>
<path d="M636.6,1213.8 L748.0,1108.6" stroke="#1ccc3c"/>
<path d="M747.9,1109.1 L766.8,1127.2" stroke="#1ccc3c"/>
<path d="M766.8,1127.2 L772.6,1113.2" stroke="#1ccc3c"/>
<path d="M772.6,1113.2 C777.3,1129.4 782.0,1147.3 786.6,1161.9 C790.5,1174.0 794.4,1182.5 798.1,1194.8 C802.7,1209.9 806.9,1228.9 811.3,1245.9" stroke="#1ccc3c"/>
<path d="M811.3,1245.9 C822.3,1212.9 834.5,1177.8 844.3,1146.8 C852.9,1119.5 860.8,1090.2 867.3,1069.6 C871.7,1055.7 875.1,1046.5 879.0,1035.0" stroke="#1ccc3c"/>
<path d="M400.8,1035.0 L555.0,1383.6" stroke="#20999b"/>
<path d="M554.2,1381.9 C560.4,1357.9 567.0,1332.9 572.7,1310.0 C577.9,1289.1 582.3,1269.0 587.1,1250.0 C591.5,1232.7 595.9,1217.1 600.3,1200.6" stroke="#20999b"/>
<path d="M600.3,1200.6 C605.3,1217.1 611.2,1237.3 615.2,1250.0 C617.8,1258.1 619.6,1263.2 621.8,1269.8" stroke="#20999b"/>
<path d="M621.8,1269.8 C624.0,1263.2 626.1,1257.2 628.3,1250.0 C631.0,1241.3 633.8,1230.8 636.6,1221.2" stroke="#20999b"/>
<path d="M636.6,1221.2 C647.7,1231.8 664.0,1247.5 670.0,1253.0 C672.2,1255.0 673.0,1255.7 674.5,1257.0" stroke="#20999b"/>
<path d="M674.5,1257.0 C676.0,1255.7 676.8,1255.5 679.0,1253.0 C690.2,1240.5 737.7,1170.0 767.0,1128.5" stroke="#20999b"/>
<path d="M766.8,1128.9 L778.3,1165.2 L794.8,1219.6 L804.7,1257.5 L811.3,1266.5 L819.6,1278.0 L836.0,1335.7" stroke="#20999b"/>
<path d="M836.0,1335.7 C840.3,1322.5 844.8,1308.4 849.0,1296.0 C852.8,1285.0 856.4,1275.1 860.0,1265.0 C863.4,1255.4 866.0,1249.1 870.0,1237.0 C877.0,1215.5 888.1,1175.7 897.1,1146.8 C905.4,1120.0 915.2,1090.2 921.8,1069.6 C926.2,1055.8 929.3,1046.5 933.0,1035.0" stroke="#20999b"/>
<path d="M770.1,1135.5 L785.0,1190.0 L799.8,1250.0 L804.7,1266.5 L816.3,1278.0 L831.1,1340.7 L837.7,1345.6 L847.6,1385.2" stroke="#3a70b4"/>
<path d="M847.6,1385.2 C851.7,1379.1 856.2,1372.9 860.0,1366.9 C863.6,1361.2 865.1,1358.0 870.0,1350.0 C882.4,1330.0 915.3,1280.6 937.3,1246.3 C958.8,1212.8 978.3,1177.2 1000.6,1146.8 C1021.2,1118.7 1051.7,1091.0 1065.5,1069.6 C1074.0,1056.4 1076.5,1046.5 1082.0,1035.0" stroke="#3a70b4"/>
<path d="M771.8,1119.0 C779.5,1144.3 788.5,1171.5 794.8,1194.8 C800.1,1214.4 802.8,1236.6 808.0,1249.2 C811.0,1256.6 814.6,1260.2 817.9,1265.7" stroke="#b8641e"/>
<path d="M817.9,1265.7 C821.2,1260.5 823.9,1257.4 827.8,1250.0 C835.9,1234.5 851.8,1194.3 860.0,1175.3 C865.1,1163.5 867.1,1158.6 872.4,1146.8 C881.1,1127.3 898.4,1090.2 907.9,1069.6 C914.3,1055.8 918.6,1046.5 924.0,1035.0" stroke="#b8641e"/>
<path d="M117.2,1474.1 L119.7,1474.0 L122.2,1474.0 L124.8,1474.0 L127.3,1474.0 L129.8,1474.0 L132.3,1474.0 L134.8,1474.1 L137.3,1474.2 L139.9,1474.3 L142.4,1474.5 L144.9,1474.8 L147.4,1475.1 L149.9,1475.4 L152.5,1475.8 L155.0,1476.2 L157.5,1476.7 L160.0,1477.3 L162.5,1477.9 L165.0,1478.6 L167.6,1479.3 L170.1,1480.1 L172.6,1480.9 L175.1,1481.8 L177.6,1482.8 L180.2,1483.9 L182.7,1484.9 L185.2,1486.1 L187.7,1487.3 L190.2,1488.6 L192.7,1489.9 L195.3,1491.2 L197.8,1492.7 L200.3,1494.1 L202.8,1495.7 L205.3,1497.3 L207.9,1498.9 L210.4,1500.6 L212.9,1502.3 L215.4,1504.0 L217.9,1505.8 L220.5,1507.7 L223.0,1509.6 L225.5,1511.5 L228.0,1513.4 L230.5,1515.4 L233.0,1517.5 L235.6,1519.5 L238.1,1521.6 L240.6,1523.7 L243.1,1525.8 L245.6,1528.0 L248.2,1530.2 L250.7,1532.4 L253.2,1534.6 L255.7,1536.8 L258.2,1539.1 L260.7,1541.4 L263.3,1543.6 L265.8,1545.9 L268.3,1548.3 L270.8,1550.6 L273.3,1552.9 L275.9,1555.2 L278.4,1557.6 L280.9,1559.9 L283.4,1562.3 L285.9,1564.7 L288.4,1567.0 L291.0,1569.4 L293.5,1571.8 L296.0,1574.1 L298.5,1576.5 L301.0,1578.9 L303.6,1581.2 L306.1,1583.6 L308.6,1586.0 L311.1,1588.3 L313.6,1590.7 L316.1,1593.1 L318.7,1595.4 L321.2,1597.8 L323.7,1600.1 L326.2,1602.5 L328.7,1604.8 L331.3,1607.2 L333.8,1609.5 L336.3,1611.9 L338.8,1614.2 L341.3,1616.5 L343.8,1618.8 L346.4,1621.2 L348.9,1623.5 L351.4,1625.8 L353.9,1628.1 L356.4,1630.4 L359.0,1632.7 L361.5,1635.0 L364.0,1637.3 L366.5,1639.6 L369.0,1641.9 L371.5,1644.1 L374.1,1646.4 L376.6,1648.6 L379.1,1650.9 L381.6,1653.1 L384.1,1655.3 L386.7,1657.6 L389.2,1659.8 L391.7,1662.0 L394.2,1664.1 L396.7,1666.3 L399.3,1668.4 L401.8,1670.6 L404.3,1672.7 L406.8,1674.7 L409.3,1676.8 L411.8,1678.8 L414.4,1680.8 L416.9,1682.8 L419.4,1684.7 L421.9,1686.6 L424.4,1688.4 L427.0,1690.2 L429.5,1691.9 L432.0,1693.6 L434.5,1695.2 L437.0,1696.8 L439.5,1698.3 L442.1,1699.7 L444.6,1701.0 L447.1,1702.2 L449.6,1703.4 L452.1,1704.4 L454.7,1705.4 L457.2,1706.2 L459.7,1706.9 L462.2,1707.5 L464.7,1707.9 L467.2,1708.2 L469.8,1708.3 L472.3,1708.2 L474.8,1708.0" stroke="#800080"/>
<path d="M474.8,1707.9 C476.4,1706.9 478.2,1706.7 479.6,1705.0 C482.0,1702.1 483.6,1696.2 485.4,1689.6 C488.4,1678.7 490.4,1661.3 493.7,1645.0 C497.7,1625.0 503.3,1599.4 508.1,1578.5 C512.4,1559.7 516.8,1543.0 521.2,1525.2" stroke="#800080"/>
<path d="M521.2,1525.2 L537.7,1538.4" stroke="#800080"/>
<path d="M537.7,1538.4 C545.9,1515.6 555.9,1490.5 562.4,1470.0 C567.6,1453.7 570.7,1440.3 574.8,1425.5" stroke="#800080"/>
<path d="M574.8,1425.5 L595.4,1460.2" stroke="#800080"/>
<path d="M595.4,1460.2 L636.9,1324.2" stroke="#800080"/>
<path d="M636.9,1324.2 L710.8,1445.3" stroke="#800080"/>
<path d="M710.8,1445.3 L767.6,1383.5" stroke="#800080"/>
<path d="M767.6,1383.5 L798.1,1446.1" stroke="#800080"/>
<path d="M798.1,1446.1 L826.1,1368.7" stroke="#800080"/>
<path d="M826.1,1368.7 L836.9,1403.3 L842.6,1395.0 L856.0,1445.0 L870.0,1490.0 L873.7,1513.0 L891.9,1575.6 L908.3,1620.1 L913.3,1634.9" stroke="#800080"/>
<path d="M913.3,1634.9 C917.1,1635.2 920.7,1636.2 924.8,1635.8 C929.8,1635.4 936.0,1634.0 941.3,1631.6 C947.0,1629.0 952.5,1624.7 957.8,1620.1 C963.6,1615.0 968.4,1609.0 974.3,1602.0 C981.9,1593.1 990.6,1582.8 999.1,1570.5 C1010.0,1554.7 1022.7,1531.8 1033.1,1514.2 C1042.1,1498.9 1049.6,1481.8 1058.0,1471.0 C1064.0,1463.3 1068.1,1458.7 1076.3,1453.4 C1087.7,1446.0 1107.0,1439.6 1122.7,1434.9 C1138.0,1430.4 1155.1,1427.4 1169.1,1425.6 C1180.4,1424.2 1188.7,1423.0 1200.0,1424.0 C1214.0,1425.3 1232.8,1429.4 1246.3,1434.9 C1258.1,1439.7 1267.8,1447.3 1277.2,1453.4 C1285.5,1458.8 1292.4,1464.1 1300.0,1469.5" stroke="#800080"/>
<path d="M767.6,1381.9 L807.2,1291.2" stroke="#800000"/>
<path d="M807.2,1291.2 L826.1,1363.7" stroke="#800000"/>
<path d="M826.1,1363.7 L832.7,1355.5 L852.0,1425.0 L865.5,1480.0 L873.7,1509.7 L880.3,1513.0 L888.6,1541.0 L896.8,1578.9" stroke="#800000"/>
<path d="M896.8,1578.9 C910.3,1570.7 923.6,1563.6 937.3,1554.4 C952.4,1544.3 967.9,1532.0 983.6,1520.4 C999.9,1508.3 1019.3,1492.7 1033.1,1483.3 C1042.6,1476.8 1049.6,1473.1 1057.8,1468.0" stroke="#800000"/>
<path d="M1057.8,1468.0 C1060.9,1461.7 1064.0,1455.5 1067.0,1449.0 C1070.1,1442.4 1072.4,1437.5 1076.3,1428.7 C1083.7,1412.2 1096.7,1380.7 1107.2,1357.6 C1117.3,1335.4 1127.8,1314.0 1138.2,1292.7 C1148.4,1271.8 1158.5,1250.5 1169.1,1230.9 C1179.1,1212.5 1189.5,1195.1 1200.0,1178.3 C1210.1,1162.2 1220.3,1146.7 1230.9,1132.0 C1241.0,1118.0 1250.4,1104.5 1261.8,1091.8 C1273.4,1078.9 1287.3,1067.5 1300.0,1055.3" stroke="#800000"/>
<path d="M430.6,1869.0 C435.1,1855.7 439.3,1842.2 444.0,1829.0 C448.6,1816.0 454.3,1802.5 458.5,1790.6 C462.1,1780.3 465.5,1770.9 468.1,1761.7 C470.5,1753.4 471.9,1745.2 473.8,1737.7 C475.5,1730.9 477.1,1724.2 478.7,1718.5 C480.0,1713.9 480.6,1710.8 482.5,1706.0 C485.3,1698.8 490.7,1690.4 495.0,1680.0 C501.1,1665.1 507.9,1642.8 513.8,1624.6 C519.5,1607.1 525.7,1584.8 530.0,1572.7 C532.3,1566.0 534.1,1562.2 536.0,1557.4 C537.7,1553.0 539.3,1549.1 541.0,1545.0" stroke="#000080"/>
<path d="M541.0,1545.0 C544.7,1547.0 548.7,1549.2 552.0,1551.0 C554.6,1552.4 556.7,1554.6 559.1,1554.9 C561.3,1555.2 563.5,1553.8 565.7,1553.2" stroke="#000080"/>
<path d="M565.7,1553.2 C570.1,1542.5 574.5,1533.4 578.9,1521.1 C584.6,1505.3 590.4,1484.3 596.2,1465.9" stroke="#000080"/>
<path d="M596.2,1465.9 C601.4,1473.3 606.2,1481.7 611.9,1488.1 C617.0,1493.9 623.6,1499.8 628.3,1503.0 C631.4,1505.1 633.5,1506.6 636.6,1507.1 C640.0,1507.6 643.9,1507.0 648.1,1505.4 C654.4,1503.0 662.2,1496.8 669.6,1491.4 C678.1,1485.2 688.8,1476.7 695.9,1470.0 C701.3,1464.8 704.7,1460.1 709.1,1455.2" stroke="#000080"/>
<path d="M709.1,1455.2 C713.5,1460.1 717.4,1464.1 722.3,1470.0 C729.1,1478.1 737.4,1491.4 745.4,1499.7 C752.3,1506.9 759.7,1511.8 766.8,1517.8" stroke="#000080"/>
<path d="M766.8,1517.8 C770.6,1512.9 774.7,1509.2 778.3,1503.0 C783.2,1494.4 788.5,1477.1 791.5,1470.0 C792.9,1466.6 793.7,1465.1 794.8,1462.6" stroke="#000080"/>
<path d="M794.8,1462.6 C797.6,1463.7 800.7,1463.8 803.1,1465.9 C806.4,1468.8 808.1,1474.2 811.1,1480.0 C815.8,1488.9 821.8,1503.6 827.8,1514.5 C833.5,1524.9 839.9,1534.4 846.0,1544.3" stroke="#000080"/>
<path d="M846.0,1544.3 L865.0,1531.0" stroke="#000080"/>
<path d="M865.0,1531.0 L880.3,1582.2 L890.2,1582.2 L900.1,1611.9 L908.3,1644.8 L922.3,1690.0 L939.6,1747.7 L953.1,1797.7 L962.7,1830.4" stroke="#000080"/>
<path d="M962.7,1830.4 C965.9,1832.6 968.9,1835.8 972.3,1837.1 C975.4,1838.2 977.9,1838.5 981.9,1838.1 C989.0,1837.3 1001.2,1831.7 1010.8,1828.5" stroke="#000080"/>
<path d="M1010.8,1828.5 L1038.0,1869.0" stroke="#000080"/>
<path d="M766.8,1518.0 C769.0,1516.8 770.8,1516.8 773.4,1514.5 C780.0,1508.4 791.5,1486.5 800.6,1472.5" stroke="#008000"/>
<path d="M800.6,1472.5 C801.9,1475.0 802.8,1476.6 804.5,1480.0 C807.9,1486.8 815.7,1502.6 819.6,1511.2 C822.2,1517.1 823.2,1521.5 825.9,1526.2 C828.6,1530.9 832.8,1536.0 836.0,1539.2 C838.2,1541.5 840.2,1542.7 842.4,1544.3 C844.6,1546.0 846.7,1546.4 849.2,1549.1 C854.3,1554.6 861.0,1572.9 867.1,1578.9 C870.9,1582.6 875.3,1581.4 878.7,1585.5 C884.6,1592.5 886.5,1614.8 891.9,1623.4 C895.3,1628.9 899.6,1628.6 903.4,1634.9 C912.3,1649.7 922.0,1692.2 929.8,1720.0 C937.2,1746.4 942.6,1772.4 949.2,1797.7 C955.5,1822.0 962.1,1845.2 968.5,1869.0" stroke="#008000"/>
<path d="M767.6,1383.5 C771.7,1394.0 775.8,1404.3 780.0,1415.0 C784.4,1426.2 787.8,1442.0 793.2,1449.4 C796.6,1454.1 800.9,1455.5 804.7,1458.5" stroke="#8000ff"/>
<path d="M804.7,1458.5 L836.0,1408.2" stroke="#8000ff"/>
<path d="M836.0,1408.2 L857.5,1490.0 L867.1,1526.2 L873.7,1517.9 L891.9,1577.2 L905.0,1628.3 L911.6,1638.2 L924.8,1694.3 L933.8,1709.2 L953.1,1738.1 L972.3,1766.9 L991.5,1797.7 L1010.8,1827.5" stroke="#8000ff"/>
<path d="M1010.8,1827.5 C1022.3,1816.8 1034.4,1806.5 1045.4,1795.4 C1056.2,1784.5 1066.2,1773.4 1076.3,1761.4 C1086.9,1748.8 1097.0,1734.9 1107.2,1721.2 C1117.6,1707.1 1128.0,1692.7 1138.2,1678.0 C1148.6,1662.9 1157.4,1647.7 1169.1,1631.6 C1182.7,1612.9 1199.8,1592.1 1215.4,1572.9 C1230.7,1554.0 1246.9,1534.3 1261.8,1517.3 C1275.0,1502.3 1287.3,1489.8 1300.0,1476.0" stroke="#8000ff"/>
<path d="M446.0,1869.0 C447.9,1857.3 449.5,1844.9 451.7,1833.8 C453.7,1823.7 456.0,1814.1 458.5,1805.0 C460.8,1796.6 463.7,1789.0 466.2,1781.0 C468.8,1773.0 471.4,1764.3 473.8,1756.9 C475.8,1750.6 477.5,1744.7 479.6,1739.6 C481.4,1735.3 482.8,1731.3 485.4,1728.1 C488.0,1724.9 491.5,1722.3 495.0,1720.4 C498.5,1718.5 502.9,1718.1 506.5,1716.5 C510.0,1714.9 513.3,1713.2 516.2,1710.8 C519.1,1708.4 521.4,1705.9 523.8,1702.1 C527.3,1696.6 530.4,1688.8 533.5,1680.0 C537.9,1667.7 541.2,1650.1 545.9,1634.8 C550.8,1618.6 556.7,1596.3 562.4,1585.4 C565.6,1579.2 569.0,1576.6 572.3,1572.2" stroke="#ff00ff"/>
<path d="M572.3,1572.2 C577.2,1572.2 582.5,1572.2 587.1,1572.2 C591.2,1572.2 594.8,1572.8 598.7,1572.2 C603.0,1571.5 606.8,1569.5 611.9,1568.1 C618.8,1566.2 629.2,1562.4 636.6,1562.3 C642.6,1562.2 647.1,1564.2 653.1,1565.6 C660.5,1567.3 669.7,1570.5 677.8,1572.2 C685.6,1573.8 693.5,1575.9 700.9,1575.5 C707.8,1575.1 713.9,1572.9 720.7,1570.5 C728.6,1567.7 737.5,1563.1 745.4,1559.0 C752.9,1555.1 759.7,1550.7 766.8,1546.6" stroke="#ff00ff"/>
<path d="M766.8,1546.6 C770.6,1549.6 774.5,1551.4 778.3,1555.7 C783.9,1561.9 790.3,1576.3 794.8,1582.1 C797.2,1585.2 798.9,1586.5 801.2,1588.8 C803.8,1591.4 806.1,1595.6 809.4,1597.0 C812.7,1598.4 816.7,1597.7 821.0,1597.0 C826.8,1596.1 835.1,1590.1 840.8,1590.4 C845.2,1590.6 848.3,1592.9 852.3,1595.4 C857.6,1598.8 863.4,1604.6 868.8,1610.2 C874.9,1616.5 881.6,1624.1 886.9,1631.6 C892.0,1638.9 895.9,1647.1 900.1,1654.7 C904.1,1661.9 908.0,1667.5 911.6,1676.1 C916.5,1687.9 920.4,1704.4 924.8,1720.0 C929.8,1737.6 934.9,1757.5 939.6,1776.5 C944.3,1795.6 948.3,1817.5 953.1,1834.2 C956.9,1847.4 961.0,1857.4 965.0,1869.0" stroke="#ff00ff"/>
<path d="M766.8,1546.6 C770.6,1550.7 774.4,1553.8 778.3,1559.0 C783.7,1566.2 788.8,1579.2 794.8,1587.0 C799.9,1593.6 805.4,1599.3 811.3,1603.5 C816.5,1607.3 823.5,1610.2 827.8,1611.8 C830.4,1612.8 831.3,1613.0 834.2,1613.5 C839.7,1614.4 852.1,1613.3 858.9,1615.2 C864.2,1616.6 867.7,1618.6 872.1,1621.8 C877.6,1625.8 884.4,1632.4 888.6,1638.2 C892.4,1643.4 894.4,1648.6 896.8,1654.7 C899.5,1661.6 901.3,1668.9 903.4,1677.8 C906.3,1689.7 908.2,1705.0 911.6,1720.0 C915.6,1737.5 921.7,1758.4 926.2,1776.5 C930.3,1793.2 933.0,1815.0 937.7,1824.6 C940.0,1829.4 942.7,1831.2 945.4,1834.2 C947.9,1837.0 950.9,1838.2 953.1,1841.9 C956.7,1847.9 958.4,1860.0 961.0,1869.0" stroke="#0000ff"/>
<path d="M479.6,1869.0 C483.1,1857.3 486.6,1845.8 490.2,1833.8 C494.0,1821.3 498.1,1808.1 501.7,1795.4 C505.2,1783.1 507.6,1769.7 511.3,1758.8 C514.5,1749.5 518.0,1739.9 521.9,1733.8 C524.6,1729.6 527.2,1727.4 530.6,1724.2 C534.7,1720.4 539.6,1716.1 545.0,1712.7 C550.8,1709.1 557.3,1706.8 564.2,1703.4 C572.4,1699.4 582.6,1693.9 591.0,1690.0 C598.3,1686.6 604.5,1683.2 611.9,1681.0 C619.7,1678.7 628.4,1678.3 636.6,1676.9 C644.8,1675.5 652.5,1674.8 661.3,1672.7 C671.6,1670.3 684.9,1665.7 694.3,1662.8 C701.2,1660.7 705.4,1658.7 712.4,1657.1 C721.7,1654.9 734.4,1652.9 745.4,1652.1 C756.3,1651.3 768.7,1651.3 778.3,1652.1 C785.8,1652.7 791.5,1654.3 798.1,1655.4" stroke="#ff0000"/>
<path d="M798.1,1655.4 C805.3,1660.6 813.4,1664.5 819.6,1671.1 C826.2,1678.3 830.3,1687.9 836.0,1697.5 C842.6,1708.7 849.9,1721.3 856.9,1734.2 C864.5,1748.2 872.5,1767.1 880.0,1778.5 C885.2,1786.5 889.8,1791.4 895.4,1797.7 C901.3,1804.3 908.1,1810.7 914.6,1816.9 C920.9,1822.9 929.5,1829.0 933.8,1834.2 C936.6,1837.6 937.8,1839.7 939.6,1843.8 C942.3,1850.1 944.2,1860.6 946.5,1869.0" stroke="#ff0000"/>
<path d="M786.6,1653.0 C790.4,1654.6 794.1,1655.1 798.1,1657.9 C803.9,1662.0 810.5,1670.0 816.3,1677.7 C823.2,1686.9 830.3,1700.7 836.0,1710.0 C840.3,1717.0 842.5,1721.1 847.3,1728.5 C854.6,1739.8 868.3,1758.1 876.2,1770.8 C882.3,1780.6 886.7,1788.7 891.5,1797.7 C896.3,1806.6 900.2,1814.4 905.0,1824.6 C911.1,1837.5 918.0,1854.2 924.5,1869.0" stroke="#000000"/>
</g>
<rect x="830" y="1070" width="402" height="76.5" fill="#fff"/>
<text x="848.7" y="1123.5" font-size="53">superstructure 4/5</text>
<line x1="117.4" y1="1446.8" x2="1597.8" y2="1446.8" stroke="#008000" stroke-width="2.6" stroke-dasharray="11.3,7.45"/>
<line x1="117.4" y1="1507.4" x2="1597.8" y2="1507.4" stroke="#008000" stroke-width="2.6" stroke-dasharray="11.3,7.45"/>
<line x1="117.4" y1="1517.6" x2="1597.8" y2="1517.6" stroke="#008000" stroke-width="2.6" stroke-dasharray="11.3,7.45"/>
<line x1="117.4" y1="1570.6" x2="1597.8" y2="1570.6" stroke="#008000" stroke-width="2.6" stroke-dasharray="11.3,7.45"/>
<line x1="117.4" y1="1653.4" x2="1597.8" y2="1653.4" stroke="#008000" stroke-width="2.6" stroke-dasharray="11.3,7.45"/>
<line x1="117.4" y1="1677.4" x2="1597.8" y2="1677.4" stroke="#008000" stroke-width="2.6" stroke-dasharray="11.3,7.45"/>
<line x1="636.9" y1="1037.0" x2="636.9" y2="1867.5" stroke="#000" stroke-width="3.2" stroke-dasharray="11.5,7.2" stroke-dashoffset="8.7"/>
<line x1="798.3" y1="1037.0" x2="798.3" y2="1867.5" stroke="#000" stroke-width="3.2" stroke-dasharray="11.5,7.2" stroke-dashoffset="8.7"/>
<path d="M1299.0,1037.0 L117.4,1037.0 L117.4,1867.5 L1299.0,1867.5" fill="none" stroke="#000" stroke-width="3.6"/>
<line x1="117.4" y1="1195.1" x2="126.4" y2="1195.1" stroke="#000" stroke-width="3.6"/>
<line x1="1293.6" y1="1195.1" x2="1299.0" y2="1195.1" stroke="#000" stroke-width="3.6"/>
<line x1="117.4" y1="1353.2" x2="133.4" y2="1353.2" stroke="#000" stroke-width="3.6"/>
<line x1="1289.4" y1="1353.2" x2="1299.0" y2="1353.2" stroke="#000" stroke-width="3.6"/>
<line x1="117.4" y1="1511.3" x2="126.4" y2="1511.3" stroke="#000" stroke-width="3.6"/>
<line x1="1293.6" y1="1511.3" x2="1299.0" y2="1511.3" stroke="#000" stroke-width="3.6"/>
<line x1="117.4" y1="1669.4" x2="133.4" y2="1669.4" stroke="#000" stroke-width="3.6"/>
<line x1="1289.4" y1="1669.4" x2="1299.0" y2="1669.4" stroke="#000" stroke-width="3.6"/>
<line x1="117.4" y1="1827.5" x2="126.4" y2="1827.5" stroke="#000" stroke-width="3.6"/>
<line x1="1293.6" y1="1827.5" x2="1299.0" y2="1827.5" stroke="#000" stroke-width="3.6"/>
<rect x="1302.2" y="1034.2" width="298.6" height="833.8" fill="none" stroke="#000" stroke-width="1.8"/>
<line x1="1312.1" y1="1034.2" x2="1312.1" y2="1039.2" stroke="#000" stroke-width="1.8"/>
<line x1="1312.1" y1="1868.0" x2="1312.1" y2="1863.0" stroke="#000" stroke-width="1.8"/>
<line x1="1360.2" y1="1034.2" x2="1360.2" y2="1043.2" stroke="#000" stroke-width="1.8"/>
<line x1="1360.2" y1="1868.0" x2="1360.2" y2="1859.0" stroke="#000" stroke-width="1.8"/>
<line x1="1408.3" y1="1034.2" x2="1408.3" y2="1039.2" stroke="#000" stroke-width="1.8"/>
<line x1="1408.3" y1="1868.0" x2="1408.3" y2="1863.0" stroke="#000" stroke-width="1.8"/>
<line x1="1456.4" y1="1034.2" x2="1456.4" y2="1043.2" stroke="#000" stroke-width="1.8"/>
<line x1="1456.4" y1="1868.0" x2="1456.4" y2="1859.0" stroke="#000" stroke-width="1.8"/>
<line x1="1504.5" y1="1034.2" x2="1504.5" y2="1039.2" stroke="#000" stroke-width="1.8"/>
<line x1="1504.5" y1="1868.0" x2="1504.5" y2="1863.0" stroke="#000" stroke-width="1.8"/>
<line x1="1552.6" y1="1034.2" x2="1552.6" y2="1043.2" stroke="#000" stroke-width="1.8"/>
<line x1="1552.6" y1="1868.0" x2="1552.6" y2="1859.0" stroke="#000" stroke-width="1.8"/>
<line x1="1302.2" y1="1195.1" x2="1308.2" y2="1195.1" stroke="#000" stroke-width="1.8"/>
<line x1="1594.8" y1="1195.1" x2="1600.8" y2="1195.1" stroke="#000" stroke-width="1.8"/>
<line x1="1302.2" y1="1353.2" x2="1308.2" y2="1353.2" stroke="#000" stroke-width="1.8"/>
<line x1="1594.8" y1="1353.2" x2="1600.8" y2="1353.2" stroke="#000" stroke-width="1.8"/>
<line x1="1302.2" y1="1511.3" x2="1308.2" y2="1511.3" stroke="#000" stroke-width="1.8"/>
<line x1="1594.8" y1="1511.3" x2="1600.8" y2="1511.3" stroke="#000" stroke-width="1.8"/>
<line x1="1302.2" y1="1669.4" x2="1308.2" y2="1669.4" stroke="#000" stroke-width="1.8"/>
<line x1="1594.8" y1="1669.4" x2="1600.8" y2="1669.4" stroke="#000" stroke-width="1.8"/>
<line x1="1302.2" y1="1827.5" x2="1308.2" y2="1827.5" stroke="#000" stroke-width="1.8"/>
<line x1="1594.8" y1="1827.5" x2="1600.8" y2="1827.5" stroke="#000" stroke-width="1.8"/>
<path d="M1319.7,1034.0 C1320.8,1054.6 1321.7,1074.9 1323.0,1095.9 C1324.3,1117.6 1325.9,1140.9 1327.4,1161.9 C1328.8,1181.0 1330.2,1199.5 1331.8,1216.8 C1333.2,1232.3 1334.5,1245.3 1336.2,1260.8 C1338.1,1278.1 1340.4,1298.4 1342.7,1315.7 C1344.8,1331.2 1346.7,1345.1 1349.3,1359.7 C1351.9,1374.4 1354.7,1390.9 1358.1,1403.6 C1360.8,1413.6 1363.8,1423.1 1366.9,1430.0 C1369.0,1434.7 1370.9,1438.8 1373.5,1441.5 C1375.5,1443.5 1377.9,1444.2 1380.1,1445.5" fill="none" stroke="#ff0000" stroke-width="1.9" stroke-linejoin="round"/>
<path d="M1380.1,1445.5 L1373.5,1446.5 L1360.3,1448.7 L1357.5,1450.9 L1362.5,1453.1 L1371.3,1454.2 L1372.6,1455.0" fill="none" stroke="#ff0000" stroke-width="1.9" stroke-linejoin="round"/>
<path d="M1372.6,1455.0 C1374.4,1459.5 1375.5,1464.1 1377.9,1468.6 C1380.7,1473.7 1384.6,1479.3 1388.9,1484.0 C1393.4,1488.8 1398.3,1493.7 1404.3,1497.1 C1410.7,1500.8 1418.7,1503.2 1426.3,1504.8 C1434.0,1506.4 1442.4,1506.0 1450.4,1506.6" fill="none" stroke="#ff0000" stroke-width="1.9" stroke-linejoin="round"/>
<path d="M1450.4,1506.6 L1426.3,1508.6 L1413.1,1511.4 L1421.9,1516.9 L1410.9,1518.7" fill="none" stroke="#ff0000" stroke-width="1.9" stroke-linejoin="round"/>
<path d="M1410.9,1518.7 C1403.6,1519.9 1395.7,1520.4 1388.9,1522.4 C1382.6,1524.3 1376.8,1526.6 1371.3,1530.1 C1365.4,1533.8 1360.3,1539.6 1354.8,1544.4" fill="none" stroke="#ff0000" stroke-width="1.9" stroke-linejoin="round"/>
<path d="M1354.8,1544.4 L1384.5,1547.7 L1388.9,1554.3 L1397.7,1560.9" fill="none" stroke="#ff0000" stroke-width="1.9" stroke-linejoin="round"/>
<path d="M1397.7,1560.9 C1420.4,1561.6 1443.3,1562.0 1465.8,1563.1 C1488.0,1564.2 1509.7,1566.4 1531.8,1567.5 C1554.1,1568.6 1576.6,1569.0 1599.0,1569.7" fill="none" stroke="#ff0000" stroke-width="1.9" stroke-linejoin="round"/>
<path d="M1599.0,1569.7 C1576.6,1570.8 1554.1,1571.5 1531.8,1573.0 C1509.7,1574.5 1485.4,1575.2 1465.8,1578.5 C1449.6,1581.2 1435.2,1584.4 1421.9,1589.5 C1409.8,1594.1 1398.4,1600.3 1388.9,1607.0 C1380.4,1612.9 1374.1,1619.7 1366.9,1626.8 C1359.4,1634.2 1352.2,1642.6 1344.9,1650.5" fill="none" stroke="#ff0000" stroke-width="1.9" stroke-linejoin="round"/>
<path d="M1344.9,1650.5 L1399.9,1652.1 L1479.0,1653.2" fill="none" stroke="#ff0000" stroke-width="1.9" stroke-linejoin="round"/>
<path d="M1479.0,1653.2 C1471.7,1654.7 1462.7,1655.0 1457.0,1657.6 C1452.8,1659.5 1447.1,1662.7 1447.1,1665.3 C1447.1,1667.9 1452.2,1671.1 1457.0,1673.0 C1465.5,1676.3 1483.4,1675.2 1496.6,1676.3" fill="none" stroke="#ff0000" stroke-width="1.9" stroke-linejoin="round"/>
<path d="M1496.6,1676.3 C1486.3,1677.4 1475.2,1678.5 1465.8,1679.6 C1457.8,1680.5 1451.4,1680.8 1443.8,1682.2 C1435.4,1683.7 1425.7,1685.8 1417.5,1688.8 C1409.7,1691.7 1402.3,1695.6 1395.5,1699.8 C1389.1,1703.7 1383.3,1708.0 1377.9,1713.0 C1372.3,1718.2 1367.2,1724.1 1362.5,1730.5 C1357.6,1737.2 1353.5,1744.7 1349.3,1752.5 C1344.8,1760.8 1340.2,1770.0 1336.2,1778.9 C1332.2,1787.6 1328.8,1796.3 1325.2,1805.3 C1321.5,1814.6 1317.6,1823.8 1314.2,1833.8 C1310.6,1844.6 1307.6,1856.5 1304.3,1867.9" fill="none" stroke="#ff0000" stroke-width="1.9" stroke-linejoin="round"/>
<text x="110.1" y="1051.0" font-size="54" text-anchor="end">2.8</text>
<text x="110.1" y="1367.2" font-size="54" text-anchor="end">2.4</text>
<text x="110.1" y="1683.4" font-size="54" text-anchor="end">2.0</text>
<text transform="translate(1349.4,982.7) rotate(90)" font-size="36">0.2</text>
<text transform="translate(1445.6,982.7) rotate(90)" font-size="36">0.3</text>
<text transform="translate(1541.8,982.7) rotate(90)" font-size="36">0.4</text>
<text x="115.8" y="1923.5" font-size="70" text-anchor="middle">Γ</text>
<text x="637.6" y="1923.2" font-size="70" text-anchor="middle">X</text>
<text x="803.5" y="1921.1" font-size="70" text-anchor="middle">M</text>
<text x="1308.0" y="1922.6" font-size="70" text-anchor="middle">Γ</text>
<text x="1418.8" y="1120.0" font-size="86">DOS</text>
<text transform="translate(81,1211.3) rotate(-90)" font-size="67">[eV]</text>
<text transform="translate(80.5,1287.5) rotate(-90)" font-size="70" font-style="italic">E</text>
<text transform="translate(103,1249.8) rotate(-90)" font-size="42" font-weight="bold">k</text>
<clipPath id="c2"><rect x="128.7" y="1989.1" width="1168.8" height="816.4"/></clipPath>
<g clip-path="url(#c2)" fill="none" stroke-width="3.5" stroke-linejoin="round" stroke-linecap="round">
<path d="M128.7,2004.0 L131.2,2003.7 L133.8,2003.4 L136.3,2003.3 L138.8,2003.2 L141.3,2003.3 L143.9,2003.4 L146.4,2003.7 L148.9,2004.0 L151.4,2004.4 L154.0,2004.9 L156.5,2005.4 L159.0,2006.1 L161.5,2006.8 L164.1,2007.6 L166.6,2008.5 L169.1,2009.4 L171.6,2010.4 L174.2,2011.4 L176.7,2012.5 L179.2,2013.7 L181.7,2014.9 L184.3,2016.2 L186.8,2017.6 L189.3,2019.0 L191.9,2020.4 L194.4,2021.9 L196.9,2023.5 L199.4,2025.1 L202.0,2026.8 L204.5,2028.5 L207.0,2030.2 L209.5,2032.0 L212.1,2033.8 L214.6,2035.7 L217.1,2037.7 L219.6,2039.6 L222.2,2041.7 L224.7,2043.7 L227.2,2045.8 L229.7,2048.0 L232.3,2050.1 L234.8,2052.4 L237.3,2054.6 L239.8,2056.9 L242.4,2059.3 L244.9,2061.7 L247.4,2064.1 L250.0,2066.5 L252.5,2069.0 L255.0,2071.6 L257.5,2074.1 L260.1,2076.8 L262.6,2079.4 L265.1,2082.1 L267.6,2084.8 L270.2,2087.6 L272.7,2090.4 L275.2,2093.2 L277.7,2096.1 L280.3,2099.0 L282.8,2101.9 L285.3,2104.9 L287.8,2107.9 L290.4,2111.0 L292.9,2114.0 L295.4,2117.2 L297.9,2120.3 L300.5,2123.5 L303.0,2126.7 L305.5,2130.0 L308.0,2133.2 L310.6,2136.6 L313.1,2139.9 L315.6,2143.3 L318.2,2146.7 L320.7,2150.1 L323.2,2153.6 L325.7,2157.1 L328.3,2160.6 L330.8,2164.2 L333.3,2167.8 L335.8,2171.4 L338.4,2175.0 L340.9,2178.7 L343.4,2182.4 L345.9,2186.1 L348.5,2189.8 L351.0,2193.6 L353.5,2197.4 L356.0,2201.2 L358.6,2205.1 L361.1,2208.9 L363.6,2212.8 L366.1,2216.7 L368.7,2220.7 L371.2,2224.6 L373.7,2228.6 L376.3,2232.6 L378.8,2236.6 L381.3,2240.6 L383.8,2244.7 L386.4,2248.7 L388.9,2252.8 L391.4,2256.9 L393.9,2261.0 L396.5,2265.2 L399.0,2269.3 L401.5,2273.5 L404.0,2277.6 L406.6,2281.8 L409.1,2286.0 L411.6,2290.3 L414.1,2294.5 L416.7,2298.7 L419.2,2303.0 L421.7,2307.3 L424.2,2311.6 L426.8,2315.9 L429.3,2320.2 L431.8,2324.5 L434.4,2328.9 L436.9,2333.2 L439.4,2337.6 L441.9,2342.0 L444.5,2346.4 L447.0,2350.8 L449.5,2355.2 L452.0,2359.7 L454.6,2364.2 L457.1,2368.7 L459.6,2373.2 L462.1,2377.7 L464.7,2382.3 L467.2,2386.9 L469.7,2391.5 L472.2,2396.1 L474.8,2400.8 L477.3,2405.5 L479.8,2410.2 L482.3,2414.9 L484.9,2419.7 L487.4,2424.6" stroke="#808000"/>
<path d="M487.4,2425.0 C491.6,2431.7 495.8,2438.5 500.0,2445.0 C504.0,2451.2 507.8,2457.1 512.0,2463.0 C516.3,2469.0 521.1,2474.8 525.7,2480.7" stroke="#808000"/>
<path d="M128.7,2003.4 L131.2,2003.1 L133.8,2003.0 L136.3,2002.9 L138.8,2002.9 L141.3,2003.0 L143.9,2003.2 L146.4,2003.4 L148.9,2003.8 L151.4,2004.2 L154.0,2004.6 L156.5,2005.2 L159.0,2005.8 L161.5,2006.5 L164.1,2007.3 L166.6,2008.1 L169.1,2009.0 L171.7,2009.9 L174.2,2010.9 L176.7,2012.0 L179.2,2013.2 L181.8,2014.4 L184.3,2015.6 L186.8,2016.9 L189.3,2018.3 L191.9,2019.7 L194.4,2021.2 L196.9,2022.7 L199.4,2024.3 L202.0,2025.9 L204.5,2027.6 L207.0,2029.3 L209.6,2031.1 L212.1,2032.9 L214.6,2034.8 L217.1,2036.7 L219.7,2038.7 L222.2,2040.7 L224.7,2042.8 L227.2,2044.9 L229.8,2047.0 L232.3,2049.2 L234.8,2051.5 L237.3,2053.7 L239.9,2056.0 L242.4,2058.4 L244.9,2060.8 L247.4,2063.2 L250.0,2065.7 L252.5,2068.2 L255.0,2070.7 L257.6,2073.3 L260.1,2075.9 L262.6,2078.6 L265.1,2081.3 L267.7,2084.0 L270.2,2086.8 L272.7,2089.6 L275.2,2092.4 L277.8,2095.3 L280.3,2098.2 L282.8,2101.1 L285.3,2104.1 L287.9,2107.1 L290.4,2110.1 L292.9,2113.1 L295.5,2116.2 L298.0,2119.3 L300.5,2122.5 L303.0,2125.7 L305.6,2128.9 L308.1,2132.1 L310.6,2135.4 L313.1,2138.7 L315.7,2142.0 L318.2,2145.3 L320.7,2148.7 L323.2,2152.1 L325.8,2155.5 L328.3,2158.9 L330.8,2162.4 L333.4,2165.9 L335.9,2169.4 L338.4,2173.0 L340.9,2176.5 L343.5,2180.1 L346.0,2183.7 L348.5,2187.4 L351.0,2191.0 L353.6,2194.7 L356.1,2198.4 L358.6,2202.1 L361.1,2205.9 L363.7,2209.6 L366.2,2213.4 L368.7,2217.2 L371.3,2221.0 L373.8,2224.9 L376.3,2228.7 L378.8,2232.6 L381.4,2236.5 L383.9,2240.4 L386.4,2244.3 L388.9,2248.3 L391.5,2252.2 L394.0,2256.2 L396.5,2260.2 L399.0,2264.2 L401.6,2268.2 L404.1,2272.3 L406.6,2276.3 L409.1,2280.4 L411.7,2284.5 L414.2,2288.6 L416.7,2292.7 L419.3,2296.8 L421.8,2301.0 L424.3,2305.1 L426.8,2309.3 L429.4,2313.5 L431.9,2317.7 L434.4,2321.9 L436.9,2326.1 L439.5,2330.4 L442.0,2334.6 L444.5,2338.9 L447.0,2343.2 L449.6,2347.5 L452.1,2351.8 L454.6,2356.1 L457.2,2360.5 L459.7,2364.8 L462.2,2369.2 L464.7,2373.6 L467.3,2378.0 L469.8,2382.5 L472.3,2386.9 L474.8,2391.4 L477.4,2395.8 L479.9,2400.3 L482.4,2404.9 L484.9,2409.4 L487.5,2414.0 L490.0,2418.6" stroke="#20999b"/>
<path d="M490.0,2418.0 C492.8,2422.0 495.2,2425.8 498.4,2430.0 C502.3,2435.0 507.2,2440.7 512.0,2446.0 C517.1,2451.6 522.9,2457.3 528.4,2462.9" stroke="#20999b"/>
<path d="M528.4,2462.9 C531.6,2451.9 536.0,2437.8 537.9,2430.0 C539.0,2425.7 539.0,2424.7 540.0,2420.0 C542.4,2409.2 547.8,2383.3 552.1,2365.9 C556.1,2349.5 561.1,2332.7 564.8,2318.5 C567.8,2306.9 569.9,2298.4 572.7,2286.9 C576.1,2273.1 580.0,2256.4 583.7,2241.1" stroke="#20999b"/>
<path d="M583.7,2241.1 L597.2,2274.2" stroke="#20999b"/>
<path d="M597.2,2274.2 L621.7,2198.0" stroke="#20999b"/>
<path d="M621.7,2198.0 L642.2,2263.5" stroke="#20999b"/>
<path d="M642.2,2263.5 C655.9,2242.3 672.3,2216.3 683.3,2200.0 C690.3,2189.6 695.0,2183.3 700.9,2174.9" stroke="#20999b"/>
<path d="M700.9,2174.9 C713.9,2187.2 727.9,2199.3 740.0,2211.7 C751.3,2223.4 761.0,2235.4 771.5,2247.2" stroke="#20999b"/>
<path d="M771.5,2247.2 C774.4,2238.1 777.4,2228.4 780.1,2220.0 C782.4,2212.8 784.3,2207.3 786.7,2200.0 C789.5,2191.3 792.8,2180.8 795.8,2171.2" stroke="#20999b"/>
<path d="M795.8,2171.2 L800.7,2174.5 L805.9,2200.0 L813.1,2220.0 L819.7,2241.2 L834.8,2292.0 L838.9,2289.3 L848.5,2323.6 L856.8,2337.4" stroke="#20999b"/>
<path d="M856.8,2337.4 C863.7,2323.7 869.8,2310.4 877.4,2296.2 C885.7,2280.7 895.4,2264.3 904.8,2248.1 C914.6,2231.3 923.7,2215.3 935.0,2197.0 C948.4,2175.3 963.8,2150.3 980.5,2126.8 C998.4,2101.7 1021.4,2071.4 1039.3,2051.1 C1052.6,2036.1 1064.2,2025.2 1076.3,2014.0 C1087.1,2004.0 1097.4,1996.0 1108.0,1987.0" stroke="#20999b"/>
<path d="M1282.0,1987.0 L1298.0,1999.0" stroke="#20999b"/>
<path d="M525.7,2480.7 L529.3,2467.3" stroke="#808000"/>
<path d="M529.3,2467.3 L540.9,2474.5" stroke="#808000"/>
<path d="M540.9,2474.5 C545.2,2459.7 550.4,2439.5 553.7,2430.0 C555.3,2425.4 556.3,2424.7 557.9,2420.0 C561.4,2409.6 566.9,2383.9 571.1,2369.0 C574.4,2357.2 576.9,2349.5 580.6,2337.4 C585.5,2321.2 592.2,2299.5 598.0,2280.6" stroke="#808000"/>
<path d="M598.0,2280.6 L621.7,2335.9" stroke="#808000"/>
<path d="M621.7,2335.9 L642.2,2267.9" stroke="#808000"/>
<path d="M642.2,2267.9 L687.8,2337.6" stroke="#808000"/>
<path d="M687.8,2337.6 C691.9,2333.3 694.8,2330.3 700.0,2324.8 C709.5,2314.8 727.5,2295.7 740.0,2282.4 C751.1,2270.6 761.0,2260.1 771.5,2249.0" stroke="#808000"/>
<path d="M771.5,2249.0 L785.3,2287.9 L801.8,2330.5 L813.5,2356.6" stroke="#808000"/>
<path d="M813.5,2356.6 L830.0,2312.6" stroke="#808000"/>
<path d="M830.0,2312.6 L838.9,2344.2 L845.8,2340.1 L849.9,2348.4 L854.0,2349.7 L860.9,2377.2 L867.7,2386.8 L870.5,2393.7 L884.2,2441.8 L898.0,2496.8 L911.7,2558.6 L917.0,2572.5" stroke="#808000"/>
<path d="M917.0,2572.5 C924.0,2565.0 930.7,2558.9 938.0,2550.0 C947.5,2538.5 958.1,2522.3 968.2,2508.2 C978.5,2493.9 989.9,2478.7 999.1,2464.9 C1007.2,2452.8 1013.1,2443.4 1020.7,2430.0 C1030.4,2412.7 1042.3,2389.9 1051.6,2369.4 C1060.8,2349.1 1066.9,2327.4 1076.3,2307.6 C1085.5,2288.3 1096.9,2270.5 1107.2,2252.0 C1117.5,2233.4 1127.8,2214.5 1138.2,2196.3 C1148.4,2178.5 1158.6,2160.6 1169.1,2143.8 C1179.2,2127.7 1189.4,2112.1 1200.0,2097.4 C1210.1,2083.4 1220.0,2069.0 1230.9,2057.3 C1240.7,2046.7 1250.7,2038.0 1261.8,2029.4 C1273.1,2020.7 1285.9,2013.5 1298.0,2005.5" stroke="#808000"/>
<path d="M771.5,2250.8 L788.1,2298.9 L801.8,2337.4 L808.7,2360.7 L814.2,2360.0 L822.4,2378.6" stroke="#800000"/>
<path d="M822.4,2378.6 L838.9,2351.1" stroke="#800000"/>
<path d="M838.9,2351.1 L844.4,2362.1 L848.5,2356.6 L855.4,2364.8 L859.5,2385.4 L863.6,2388.0 L871.9,2421.2 L885.6,2469.3 L898.0,2510.5 L910.3,2558.6 L913.1,2570.0 L921.8,2574.6" stroke="#800000"/>
<path d="M921.8,2574.6 C928.0,2574.1 934.2,2575.0 940.4,2573.1 C947.6,2570.9 954.5,2567.1 962.0,2560.7 C973.6,2550.8 987.3,2530.3 999.1,2514.4 C1011.0,2498.4 1022.3,2482.9 1033.1,2464.9 C1045.1,2445.1 1058.9,2417.8 1067.1,2400.0 C1072.6,2388.1 1074.5,2381.6 1079.4,2369.4 C1086.8,2351.2 1097.1,2323.0 1107.2,2301.4 C1116.8,2280.9 1128.0,2262.6 1138.2,2242.7 C1148.6,2222.4 1158.5,2200.5 1169.1,2180.9 C1179.1,2162.5 1189.5,2145.1 1200.0,2128.3 C1210.1,2112.2 1220.3,2096.7 1230.9,2082.0 C1241.0,2068.0 1250.5,2054.0 1261.8,2041.8 C1272.9,2029.9 1285.9,2020.3 1298.0,2009.5" stroke="#800000"/>
<path d="M128.7,2723.1 L131.2,2723.1 L133.8,2723.2 L136.3,2723.3 L138.8,2723.4 L141.4,2723.6 L143.9,2723.8 L146.4,2724.1 L149.0,2724.4 L151.5,2724.7 L154.0,2725.0 L156.6,2725.4 L159.1,2725.9 L161.6,2726.3 L164.2,2726.8 L166.7,2727.4 L169.2,2727.9 L171.8,2728.5 L174.3,2729.1 L176.8,2729.8 L179.4,2730.5 L181.9,2731.2 L184.4,2731.9 L187.0,2732.7 L189.5,2733.5 L192.0,2734.3 L194.6,2735.1 L197.1,2735.9 L199.6,2736.8 L202.2,2737.7 L204.7,2738.6 L207.2,2739.5 L209.8,2740.4 L212.3,2741.4 L214.8,2742.4 L217.4,2743.3 L219.9,2744.3 L222.4,2745.3 L225.0,2746.3 L227.5,2747.3 L230.0,2748.3 L232.6,2749.3 L235.1,2750.3 L237.6,2751.4 L240.2,2752.4 L242.7,2753.4 L245.2,2754.4 L247.8,2755.5 L250.3,2756.5 L252.8,2757.5 L255.4,2758.5 L257.9,2759.5 L260.4,2760.5 L263.0,2761.5 L265.5,2762.5 L268.0,2763.5 L270.6,2764.4 L273.1,2765.4 L275.6,2766.3 L278.2,2767.3 L280.7,2768.2 L283.2,2769.1 L285.8,2770.0 L288.3,2770.9 L290.9,2771.8 L293.4,2772.6 L295.9,2773.5 L298.5,2774.3 L301.0,2775.1 L303.5,2775.9 L306.1,2776.7 L308.6,2777.4 L311.1,2778.2 L313.7,2778.9 L316.2,2779.6 L318.7,2780.3 L321.3,2780.9 L323.8,2781.6 L326.3,2782.2 L328.9,2782.8 L331.4,2783.4 L333.9,2783.9 L336.5,2784.4 L339.0,2784.9 L341.5,2785.4 L344.1,2785.9 L346.6,2786.3 L349.1,2786.7 L351.7,2787.1 L354.2,2787.4 L356.7,2787.8 L359.3,2788.0 L361.8,2788.3 L364.3,2788.5 L366.9,2788.7 L369.4,2788.9 L371.9,2789.0 L374.5,2789.1 L377.0,2789.2 L379.5,2789.2 L382.1,2789.2 L384.6,2789.1 L387.1,2789.0 L389.7,2788.8 L392.2,2788.6 L394.7,2788.4 L397.3,2788.1 L399.8,2787.7 L402.3,2787.3 L404.9,2786.8 L407.4,2786.3 L409.9,2785.7 L412.5,2785.0 L415.0,2784.3 L417.5,2783.5 L420.1,2782.6 L422.6,2781.7 L425.1,2780.6 L427.7,2779.5 L430.2,2778.3 L432.7,2776.9 L435.3,2775.5 L437.8,2774.0 L440.3,2772.3 L442.9,2770.6 L445.4,2768.7 L447.9,2766.7 L450.5,2764.5 L453.0,2762.2" stroke="#800080"/>
<path d="M453.0,2760.9 C454.8,2755.4 456.5,2750.3 458.5,2744.4 C460.8,2737.6 463.6,2730.0 466.2,2722.4 C469.0,2714.3 472.1,2705.4 474.9,2697.1 C477.6,2689.0 480.2,2681.7 482.6,2673.0 C485.4,2662.9 487.7,2651.6 490.3,2640.0 C493.2,2627.0 495.7,2613.3 498.9,2598.6 C502.6,2581.9 507.3,2563.3 511.4,2545.0 C515.7,2525.9 520.0,2494.4 523.9,2486.1 C525.1,2483.5 526.3,2483.1 527.5,2481.6" stroke="#800080"/>
<path d="M527.5,2481.6 L532.9,2485.2 L537.3,2481.6 L540.0,2476.3" stroke="#800080"/>
<path d="M540.0,2476.3 C542.4,2477.8 544.1,2479.3 547.1,2480.7 C551.6,2482.9 559.7,2486.0 565.0,2487.0 C569.0,2487.8 572.1,2487.3 575.7,2487.5" stroke="#800080"/>
<path d="M575.7,2487.5 C578.1,2479.9 580.1,2473.5 582.9,2464.6 C586.8,2452.2 592.4,2435.6 597.1,2420.0 C602.2,2402.9 607.6,2381.0 612.2,2365.9 C615.6,2354.8 618.5,2346.9 621.7,2337.4" stroke="#800080"/>
<path d="M621.7,2337.4 C624.3,2343.7 626.2,2350.8 629.6,2356.4 C632.8,2361.7 637.5,2365.9 641.4,2370.6" stroke="#800080"/>
<path d="M641.4,2370.6 C645.1,2369.6 648.6,2369.3 652.4,2367.5 C657.2,2365.1 662.6,2360.3 667.5,2356.4 C672.5,2352.4 678.1,2345.4 682.2,2343.9 C684.5,2343.0 686.3,2343.9 688.4,2343.9" stroke="#800080"/>
<path d="M688.4,2343.9 C693.0,2351.3 697.7,2358.8 702.1,2366.2 C706.4,2373.3 709.4,2379.6 714.5,2387.3 C721.3,2397.4 730.8,2410.1 740.0,2421.2 C749.7,2432.8 761.0,2444.1 771.5,2455.5" stroke="#800080"/>
<path d="M771.5,2455.5 C780.2,2437.0 791.6,2413.9 797.7,2400.0 C801.3,2391.7 803.6,2385.7 805.9,2380.0 C807.6,2375.8 808.7,2372.7 810.1,2369.0" stroke="#800080"/>
<path d="M810.1,2369.0 L816.9,2381.3 L821.0,2381.3 L827.9,2392.3 L843.0,2367.6 L852.6,2395.1 L858.1,2391.0 L870.5,2434.9 L884.2,2483.0 L898.0,2524.2 L909.0,2561.3 L914.5,2580.0 L921.3,2611.2 L932.8,2644.2 L940.0,2654.0" stroke="#800080"/>
<path d="M940.0,2654.0 C942.0,2655.7 943.3,2657.6 946.0,2659.0 C950.0,2661.2 955.8,2662.7 962.5,2664.0 C972.2,2665.9 985.3,2667.0 999.1,2667.3 C1017.0,2667.7 1040.3,2665.1 1060.9,2664.2 C1081.5,2663.3 1103.6,2661.7 1122.7,2662.1 C1139.3,2662.5 1153.7,2663.6 1169.1,2665.8 C1184.6,2668.0 1200.2,2670.1 1215.4,2675.1 C1231.2,2680.3 1247.5,2688.8 1261.8,2696.7 C1274.9,2703.9 1285.9,2712.2 1298.0,2720.0" stroke="#800080"/>
<path d="M771.5,2455.0 C779.3,2443.7 787.1,2432.5 794.9,2421.2 C802.7,2409.8 810.5,2398.3 818.3,2386.9" stroke="#8000ff"/>
<path d="M818.3,2386.9 L836.2,2406.1 L841.6,2408.2 L851.3,2400.6 L860.9,2434.9 L870.5,2469.3 L884.2,2510.5 L891.1,2551.7 L904.8,2564.1 L911.7,2580.0 L918.0,2603.0 L934.5,2652.4 L954.3,2685.4 L980.0,2724.9 L999.1,2749.2 L1037.0,2807.0" stroke="#8000ff"/>
<path d="M1208.0,2807.0 C1220.8,2793.9 1232.3,2781.0 1246.3,2767.8 C1262.0,2753.0 1280.8,2737.9 1298.0,2723.0" stroke="#8000ff"/>
<path d="M437.6,2807.0 C440.2,2799.0 442.6,2790.4 445.3,2782.9 C447.7,2776.2 449.9,2769.4 453.0,2764.2 C455.6,2759.8 459.5,2757.5 461.8,2753.2 C464.4,2748.5 465.4,2743.1 467.3,2736.7 C469.8,2728.1 472.3,2715.8 474.9,2705.9 C477.4,2696.5 479.9,2688.4 482.6,2678.5 C485.8,2666.8 489.0,2652.3 492.5,2640.0 C495.7,2628.7 498.7,2619.9 502.5,2607.5 C507.6,2590.8 514.8,2565.7 520.4,2548.6 C524.8,2535.2 528.4,2519.7 532.9,2512.9 C535.2,2509.5 537.6,2508.7 540.0,2506.6" stroke="#000080"/>
<path d="M540.0,2506.6 C543.0,2507.8 545.8,2509.0 548.9,2510.2 C552.3,2511.5 556.5,2514.4 559.6,2513.8 C562.4,2513.2 564.6,2510.5 566.8,2507.5 C570.1,2503.0 572.1,2491.3 575.7,2487.9 C577.9,2485.9 580.1,2486.7 582.9,2485.2 C587.7,2482.6 595.2,2477.5 600.7,2471.8 C607.2,2465.1 614.0,2454.5 618.6,2446.8 C622.2,2440.8 624.3,2435.3 627.0,2430.0 C629.4,2425.1 631.3,2420.1 634.0,2416.0 C636.4,2412.4 638.9,2408.0 642.2,2406.5 C645.2,2405.1 648.6,2405.5 652.4,2406.5 C657.9,2407.9 665.0,2413.1 671.1,2417.1 C677.4,2421.2 683.4,2426.4 689.7,2430.8 C695.8,2435.1 702.0,2439.4 708.3,2443.2 C714.4,2446.9 720.6,2450.9 727.0,2453.2 C733.1,2455.4 740.0,2456.6 745.6,2456.9 C750.1,2457.1 753.8,2456.4 758.0,2455.7 C762.4,2455.0 767.0,2453.6 771.5,2452.5" stroke="#000080"/>
<path d="M771.5,2452.5 C775.7,2457.0 779.9,2464.3 784.0,2465.9 C786.8,2467.0 789.3,2466.7 792.2,2465.2 C797.3,2462.5 803.5,2451.2 808.7,2444.6 C813.5,2438.6 817.8,2433.1 822.4,2427.4" stroke="#000080"/>
<path d="M822.4,2427.4 C826.1,2430.8 830.1,2436.2 833.4,2437.7 C835.4,2438.6 837.0,2437.3 838.9,2438.4 C842.4,2440.5 846.4,2447.7 849.9,2454.2 C854.7,2463.0 858.8,2476.7 863.6,2487.1 C868.0,2496.8 872.9,2505.2 877.4,2514.6 C882.1,2524.4 887.2,2534.9 891.1,2544.8 C894.7,2554.0 896.2,2563.5 900.0,2572.0 C903.6,2580.1 908.9,2585.4 913.1,2594.7 C919.0,2607.8 924.0,2626.5 929.6,2644.2 C936.0,2664.6 942.9,2685.9 949.3,2710.1 C957.0,2739.2 964.1,2774.7 971.5,2807.0" stroke="#000080"/>
<path d="M453.0,2765.5 C456.7,2762.7 461.4,2760.9 464.0,2757.0 C466.9,2752.5 466.8,2745.6 468.4,2739.0 C470.4,2730.8 472.5,2721.1 474.9,2711.4 C477.6,2700.4 480.6,2688.1 483.7,2676.3 C486.8,2664.3 490.2,2651.7 493.6,2640.0 C496.8,2629.0 499.7,2620.3 503.5,2608.0 C508.6,2591.3 515.9,2566.1 521.4,2549.0 C525.7,2535.8 529.5,2525.7 533.5,2514.0" stroke="#008000"/>
<path d="M700.0,2448.0 C709.0,2451.2 718.8,2455.3 727.0,2457.5 C733.7,2459.3 740.0,2460.7 745.6,2461.0 C750.1,2461.2 753.8,2460.4 758.0,2460.0 C762.4,2459.5 766.6,2457.6 771.5,2458.3 C777.8,2459.2 785.8,2467.7 792.2,2467.2 C798.1,2466.7 802.9,2460.9 808.7,2456.9 C815.6,2452.1 823.4,2445.5 830.7,2439.8" stroke="#008000"/>
<path d="M830.7,2439.8 C834.8,2447.3 839.0,2453.9 843.0,2462.4 C847.8,2472.5 852.0,2486.1 856.8,2496.8 C861.2,2506.5 865.3,2514.7 870.5,2524.2 C876.5,2535.1 886.5,2550.1 891.1,2558.6 C893.7,2563.4 894.9,2566.0 896.6,2570.0 C898.4,2574.2 898.9,2579.2 901.5,2583.2 C904.3,2587.5 909.7,2589.1 913.1,2594.7 C918.7,2603.8 921.5,2620.5 926.3,2635.9 C932.3,2655.3 939.7,2677.2 946.0,2701.9 C953.8,2732.7 960.7,2772.0 968.0,2807.0" stroke="#008000"/>
<path d="M453.0,2807.0 C454.5,2799.0 455.9,2790.5 457.4,2782.9 C458.8,2776.0 459.9,2768.1 461.8,2763.1 C463.1,2759.8 464.2,2757.8 466.2,2755.4 C468.4,2752.6 471.5,2750.7 474.9,2747.7 C479.5,2743.7 485.8,2739.4 491.4,2733.4 C498.6,2725.6 508.8,2712.1 513.4,2703.7 C516.4,2698.3 517.0,2695.1 518.9,2689.5 C521.4,2681.9 523.9,2670.6 526.6,2662.0 C529.0,2654.2 532.4,2647.5 534.3,2640.0 C536.3,2632.4 535.9,2625.4 538.2,2616.4 C541.5,2603.7 549.3,2582.8 554.3,2571.8 C557.4,2564.9 559.7,2559.3 563.2,2555.7 C565.8,2553.0 568.9,2550.9 572.1,2550.4 C575.4,2549.9 578.9,2551.6 582.9,2553.0 C588.2,2554.8 594.7,2558.6 600.7,2561.1 C606.6,2563.6 612.1,2566.4 618.6,2568.2 C625.8,2570.2 634.4,2570.6 642.3,2571.8" stroke="#ff00ff"/>
<path d="M642.3,2571.8 C652.2,2570.6 662.3,2569.6 672.1,2568.2 C681.6,2566.9 689.9,2565.8 700.0,2563.8 C712.2,2561.4 727.4,2557.3 740.0,2554.5 C751.1,2552.0 763.2,2548.9 771.6,2547.6 C777.1,2546.7 781.0,2545.1 785.3,2546.2 C789.7,2547.3 794.0,2550.9 797.7,2554.5 C801.9,2558.5 805.4,2565.0 808.7,2569.6 C811.4,2573.4 813.2,2576.3 816.0,2580.0 C819.3,2584.5 823.1,2591.1 827.4,2594.7 C831.2,2597.8 835.5,2599.4 840.0,2601.0 C844.8,2602.7 849.6,2604.0 855.4,2604.6 C862.6,2605.3 872.7,2603.9 880.1,2603.8 C886.2,2603.7 891.1,2603.8 896.6,2603.8" stroke="#ff00ff"/>
<path d="M896.6,2603.8 C899.3,2609.0 902.4,2613.1 904.8,2619.4 C908.2,2628.2 908.6,2645.0 913.1,2652.4 C916.1,2657.3 921.2,2657.2 924.6,2662.3 C930.2,2670.7 933.4,2686.9 937.8,2701.9 C943.4,2721.0 949.8,2748.6 954.3,2767.8 C957.7,2782.5 960.0,2793.9 962.8,2807.0" stroke="#ff00ff"/>
<path d="M455.2,2807.0 C457.0,2799.0 458.8,2790.5 460.7,2782.9 C462.5,2776.0 464.1,2767.8 466.2,2763.1 C467.5,2760.2 468.4,2759.0 470.5,2756.5 C473.9,2752.5 480.2,2748.5 485.9,2742.2 C494.7,2732.5 512.5,2711.0 516.7,2702.6 C518.4,2699.3 518.0,2698.1 518.9,2694.9 C520.5,2689.5 523.1,2681.0 525.5,2673.0 C528.5,2663.1 533.1,2650.1 535.4,2640.0 C537.3,2631.7 536.7,2625.8 539.0,2617.0 C542.2,2604.6 550.0,2583.9 555.0,2573.0 C558.1,2566.2 560.6,2560.6 564.0,2557.0 C566.5,2554.4 569.1,2552.4 572.1,2552.0 C575.4,2551.5 579.0,2553.6 583.0,2555.0 C588.3,2556.9 594.8,2560.5 600.7,2563.0 C606.6,2565.5 612.1,2568.3 618.6,2570.0 C625.8,2571.9 634.4,2572.3 642.3,2573.5" stroke="#0000ff"/>
<path d="M642.3,2573.5 C652.2,2572.3 662.3,2571.4 672.1,2570.0 C681.6,2568.7 689.9,2567.4 700.0,2565.5 C712.2,2563.3 727.5,2560.1 740.0,2557.2 C751.2,2554.6 764.1,2550.0 771.6,2549.0 C775.7,2548.5 778.1,2548.0 781.2,2549.0 C785.0,2550.2 788.8,2554.1 792.2,2557.2 C795.7,2560.4 798.6,2564.4 801.8,2568.2 C805.0,2572.0 807.5,2575.8 811.4,2580.0 C816.6,2585.5 823.7,2592.0 830.7,2598.0 C838.3,2604.6 847.1,2611.4 855.4,2617.8 C863.6,2624.1 871.2,2630.3 880.1,2635.9 C889.7,2641.9 901.0,2646.9 911.4,2652.4" stroke="#0000ff"/>
<path d="M911.4,2652.4 C914.7,2663.4 917.5,2673.3 921.3,2685.4 C926.0,2700.2 933.3,2716.6 937.8,2734.8 C943.2,2756.4 945.8,2782.9 949.8,2807.0" stroke="#0000ff"/>
<path d="M484.8,2807.0 C487.7,2797.1 490.7,2787.3 493.6,2777.4 C496.5,2767.5 499.7,2757.7 502.4,2747.7 C505.2,2737.6 507.5,2724.0 510.1,2716.9 C511.6,2713.0 512.4,2711.5 514.5,2708.1 C517.9,2702.5 524.7,2694.7 529.9,2687.3 C535.6,2679.1 541.1,2669.6 547.0,2661.0 C552.8,2652.5 558.9,2643.9 565.0,2636.0 C570.8,2628.5 576.4,2620.1 582.9,2614.6 C588.5,2609.8 594.5,2606.3 600.7,2603.9 C606.5,2601.7 612.2,2601.2 618.6,2600.4 C625.9,2599.5 634.6,2599.6 642.3,2599.1 C649.5,2598.7 656.6,2599.1 663.2,2597.7 C669.5,2596.4 675.1,2594.0 681.1,2591.4 C687.4,2588.7 692.6,2585.7 700.0,2581.6 C710.9,2575.6 727.1,2564.0 740.0,2558.6 C750.9,2554.0 761.1,2552.6 771.6,2549.6" stroke="#ff0000"/>
<path d="M771.6,2549.6 C777.1,2553.5 783.0,2557.4 788.1,2561.3 C792.7,2564.9 797.3,2568.6 801.0,2572.0 C804.0,2574.8 805.5,2576.6 808.7,2580.0 C814.2,2585.7 823.7,2593.8 830.7,2603.0 C839.4,2614.4 847.6,2629.3 855.4,2644.2 C864.1,2660.8 871.1,2682.6 880.1,2698.6 C887.8,2712.3 897.6,2723.4 904.8,2734.8 C911.0,2744.6 915.4,2752.3 921.3,2762.8 C928.6,2775.8 937.0,2792.3 944.8,2807.0" stroke="#ff0000"/>
<path d="M771.6,2549.6 C776.2,2553.5 780.6,2557.8 785.3,2561.3 C789.8,2564.6 794.8,2566.3 799.3,2570.0 C804.5,2574.4 809.5,2579.9 814.2,2586.5 C820.1,2594.7 824.6,2605.3 830.7,2616.2 C838.1,2629.5 847.0,2646.2 855.4,2660.7 C863.5,2674.8 872.1,2687.4 880.1,2701.9 C888.6,2717.5 896.9,2734.2 904.8,2751.3 C913.0,2769.2 920.5,2788.4 928.3,2807.0" stroke="#000000"/>
<path d="M489.0,1987.0 C506.0,2034.0 525.4,2088.9 540.0,2128.0 C550.5,2156.1 559.9,2180.3 567.9,2200.0 C573.6,2214.0 578.0,2223.7 583.0,2235.5" stroke="#1ccc3c"/>
<path d="M583.0,2235.5 C586.4,2223.7 589.7,2213.0 593.2,2200.0 C597.5,2184.4 602.1,2165.5 606.6,2148.2" stroke="#1ccc3c"/>
<path d="M606.6,2148.2 L620.9,2190.9" stroke="#1ccc3c"/>
<path d="M620.9,2190.9 L642.2,2120.6" stroke="#1ccc3c"/>
<path d="M642.2,2120.6 C653.3,2130.6 665.0,2141.8 675.4,2150.6 C684.1,2158.0 691.9,2163.8 700.2,2170.4" stroke="#1ccc3c"/>
<path d="M700.2,2170.4 C713.1,2153.6 726.5,2136.0 738.9,2120.1 C750.2,2105.6 760.6,2092.6 771.4,2078.9" stroke="#1ccc3c"/>
<path d="M771.4,2078.9 L781.8,2111.9 L796.6,2161.3 L802.4,2152.2 L813.1,2186.0 L816.9,2200.0 L823.0,2220.0 L840.3,2282.4" stroke="#1ccc3c"/>
<path d="M840.3,2282.4 C846.7,2263.3 854.1,2240.5 859.5,2225.0 C863.2,2214.3 865.9,2207.8 869.1,2198.0 C872.8,2186.5 876.2,2172.2 880.0,2160.0 C883.5,2148.5 886.7,2140.1 890.9,2126.8 C897.3,2106.7 906.6,2075.3 914.1,2051.1 C921.1,2028.8 927.7,2008.4 934.5,1987.0" stroke="#1ccc3c"/>
<path d="M556.1,1987.0 L606.6,2142.7" stroke="#2ec4d4"/>
<path d="M606.6,2142.7 L627.2,2065.3" stroke="#2ec4d4"/>
<path d="M627.2,2065.3 L642.2,2119.0" stroke="#2ec4d4"/>
<path d="M642.2,2119.0 C675.1,2095.8 729.2,2051.3 741.0,2049.5 C743.3,2049.1 744.0,2050.4 745.5,2050.9" stroke="#2ec4d4"/>
<path d="M745.5,2050.9 L771.4,2077.2" stroke="#2ec4d4"/>
<path d="M771.4,2077.2 L776.8,2057.5" stroke="#2ec4d4"/>
<path d="M776.8,2057.5 L803.2,2144.8" stroke="#2ec4d4"/>
<path d="M803.2,2144.8 L813.0,2106.0" stroke="#2ec4d4"/>
<path d="M831.2,2050.9 L851.0,1987.0" stroke="#2ec4d4"/>
<path d="M776.8,2064.1 L804.8,2153.1" stroke="#c8207b" stroke-width="2"/>
<path d="M804.8,2153.1 L820.0,2122.0" stroke="#c8207a"/>
<path d="M845.2,2050.9 L871.5,1987.0" stroke="#c8207a"/>
<path d="M604.3,1987.0 L627.2,2062.1" stroke="#9aaa2a"/>
<path d="M627.2,2062.1 L643.0,2006.9" stroke="#9aaa2a"/>
<path d="M643.0,2006.9 C647.5,2006.4 651.1,2004.9 656.5,2005.5 C665.1,2006.4 678.6,2011.9 689.4,2016.3 C700.6,2020.9 713.5,2027.0 722.4,2032.7 C729.1,2037.0 734.4,2044.3 738.9,2045.9 C741.4,2046.8 743.3,2045.9 745.5,2045.9" stroke="#9aaa2a"/>
<path d="M745.5,2045.9 L771.4,2033.6" stroke="#9aaa2a"/>
<path d="M771.4,2033.6 L776.8,2052.5" stroke="#9aaa2a"/>
<path d="M778.5,2052.5 L799.5,1987.0" stroke="#303098" stroke-width="2"/>
<path d="M776.8,2052.5 L795.5,1987.0" stroke="#9aaa2a"/>
<path d="M637.5,1987.0 L642.2,1997.4" stroke="#8a8a8a"/>
<path d="M643.8,2002.5 C653.5,2003.2 663.0,2003.3 673.0,2004.7 C683.7,2006.2 695.0,2008.6 705.9,2011.3 C717.0,2014.1 728.0,2017.6 738.9,2021.2 C749.8,2024.8 760.6,2028.9 771.4,2032.7" stroke="#8a8a8a"/>
<path d="M771.4,2032.7 L784.0,1987.0" stroke="#8a8a8a"/>
<path d="M773.5,2085.5 L794.9,2167.9 L803.2,2167.9 L805.6,2161.3 L815.5,2200.0 L821.3,2220.0 L836.2,2282.4 L840.3,2285.2 L849.9,2323.6" stroke="#b8641e"/>
<path d="M849.9,2323.6 C858.9,2312.1 868.6,2303.2 877.0,2289.0 C887.9,2270.5 897.0,2244.9 906.4,2220.0 C917.2,2191.5 927.0,2156.2 937.3,2126.8 C946.6,2100.2 956.2,2075.3 965.1,2051.1 C973.3,2028.8 981.0,2008.4 989.0,1987.0" stroke="#b8641e"/>
<path d="M771.5,2246.7 C777.5,2231.1 784.6,2212.1 789.5,2200.0 C792.6,2192.3 794.8,2187.4 797.4,2181.1" stroke="#3a70b4"/>
<path d="M797.4,2181.1 L801.8,2200.0 L808.1,2220.0 L815.5,2252.2 L829.3,2304.4 L834.8,2300.3 L844.4,2330.5 L849.9,2334.6 L856.8,2345.6 L866.4,2378.6" stroke="#3a70b4"/>
<path d="M866.4,2378.6 C884.9,2352.9 903.1,2328.5 921.8,2301.4 C942.1,2272.1 964.0,2238.7 983.6,2208.7 C1002.0,2180.6 1016.8,2152.9 1036.2,2126.8 C1055.9,2100.4 1081.9,2070.9 1101.1,2051.1 C1114.7,2037.0 1125.9,2026.3 1138.2,2017.1 C1148.6,2009.3 1158.8,2003.6 1169.1,1998.5 C1178.7,1993.7 1188.4,1990.8 1198.0,1987.0" stroke="#3a70b4"/>
<path d="M1266.0,1987.0 L1298.0,2000.5" stroke="#3a70b4"/>
</g>
<rect x="811.5" y="2051" width="402" height="76" fill="#fff"/>
<text x="830.0" y="2104.5" font-size="53">superstructure 4/6</text>
<line x1="128.7" y1="2370.4" x2="1598.8" y2="2370.4" stroke="#008000" stroke-width="2.6" stroke-dasharray="11.3,7.45"/>
<line x1="128.7" y1="2465.3" x2="1598.8" y2="2465.3" stroke="#008000" stroke-width="2.6" stroke-dasharray="11.3,7.45"/>
<line x1="128.7" y1="2572.7" x2="1598.8" y2="2572.7" stroke="#008000" stroke-width="2.6" stroke-dasharray="11.3,7.45"/>
<line x1="128.7" y1="2599.2" x2="1598.8" y2="2599.2" stroke="#008000" stroke-width="2.6" stroke-dasharray="11.3,7.45"/>
<line x1="642.3" y1="1989.1" x2="642.3" y2="2805.5" stroke="#000" stroke-width="3.2" stroke-dasharray="11.5,7.2" stroke-dashoffset="8.7"/>
<line x1="771.5" y1="1989.1" x2="771.5" y2="2805.5" stroke="#000" stroke-width="3.2" stroke-dasharray="11.5,7.2" stroke-dashoffset="8.7"/>
<path d="M1297.5,1989.1 L128.7,1989.1 L128.7,2805.5 L1297.5,2805.5" fill="none" stroke="#000" stroke-width="3.6"/>
<line x1="128.7" y1="2144.7" x2="137.7" y2="2144.7" stroke="#000" stroke-width="3.6"/>
<line x1="1292.1" y1="2144.7" x2="1297.5" y2="2144.7" stroke="#000" stroke-width="3.6"/>
<line x1="128.7" y1="2300.2" x2="144.7" y2="2300.2" stroke="#000" stroke-width="3.6"/>
<line x1="1287.9" y1="2300.2" x2="1297.5" y2="2300.2" stroke="#000" stroke-width="3.6"/>
<line x1="128.7" y1="2455.7" x2="137.7" y2="2455.7" stroke="#000" stroke-width="3.6"/>
<line x1="1292.1" y1="2455.7" x2="1297.5" y2="2455.7" stroke="#000" stroke-width="3.6"/>
<line x1="128.7" y1="2611.2" x2="144.7" y2="2611.2" stroke="#000" stroke-width="3.6"/>
<line x1="1287.9" y1="2611.2" x2="1297.5" y2="2611.2" stroke="#000" stroke-width="3.6"/>
<line x1="128.7" y1="2766.7" x2="137.7" y2="2766.7" stroke="#000" stroke-width="3.6"/>
<line x1="1292.1" y1="2766.7" x2="1297.5" y2="2766.7" stroke="#000" stroke-width="3.6"/>
<rect x="1301.3" y="1985.0" width="300.5" height="821.3" fill="none" stroke="#000" stroke-width="1.8"/>
<line x1="1311.4" y1="1985.0" x2="1311.4" y2="1990.0" stroke="#000" stroke-width="1.8"/>
<line x1="1311.4" y1="2806.3" x2="1311.4" y2="2801.3" stroke="#000" stroke-width="1.8"/>
<line x1="1359.8" y1="1985.0" x2="1359.8" y2="1994.0" stroke="#000" stroke-width="1.8"/>
<line x1="1359.8" y1="2806.3" x2="1359.8" y2="2797.3" stroke="#000" stroke-width="1.8"/>
<line x1="1408.2" y1="1985.0" x2="1408.2" y2="1990.0" stroke="#000" stroke-width="1.8"/>
<line x1="1408.2" y1="2806.3" x2="1408.2" y2="2801.3" stroke="#000" stroke-width="1.8"/>
<line x1="1456.6" y1="1985.0" x2="1456.6" y2="1994.0" stroke="#000" stroke-width="1.8"/>
<line x1="1456.6" y1="2806.3" x2="1456.6" y2="2797.3" stroke="#000" stroke-width="1.8"/>
<line x1="1505.0" y1="1985.0" x2="1505.0" y2="1990.0" stroke="#000" stroke-width="1.8"/>
<line x1="1505.0" y1="2806.3" x2="1505.0" y2="2801.3" stroke="#000" stroke-width="1.8"/>
<line x1="1553.4" y1="1985.0" x2="1553.4" y2="1994.0" stroke="#000" stroke-width="1.8"/>
<line x1="1553.4" y1="2806.3" x2="1553.4" y2="2797.3" stroke="#000" stroke-width="1.8"/>
<line x1="1301.3" y1="2144.7" x2="1307.3" y2="2144.7" stroke="#000" stroke-width="1.8"/>
<line x1="1595.8" y1="2144.7" x2="1601.8" y2="2144.7" stroke="#000" stroke-width="1.8"/>
<line x1="1301.3" y1="2300.2" x2="1307.3" y2="2300.2" stroke="#000" stroke-width="1.8"/>
<line x1="1595.8" y1="2300.2" x2="1601.8" y2="2300.2" stroke="#000" stroke-width="1.8"/>
<line x1="1301.3" y1="2455.7" x2="1307.3" y2="2455.7" stroke="#000" stroke-width="1.8"/>
<line x1="1595.8" y1="2455.7" x2="1601.8" y2="2455.7" stroke="#000" stroke-width="1.8"/>
<line x1="1301.3" y1="2611.2" x2="1307.3" y2="2611.2" stroke="#000" stroke-width="1.8"/>
<line x1="1595.8" y1="2611.2" x2="1601.8" y2="2611.2" stroke="#000" stroke-width="1.8"/>
<line x1="1301.3" y1="2766.7" x2="1307.3" y2="2766.7" stroke="#000" stroke-width="1.8"/>
<line x1="1595.8" y1="2766.7" x2="1601.8" y2="2766.7" stroke="#000" stroke-width="1.8"/>
<path d="M1318.6,1984.9 C1320.1,2010.9 1321.5,2038.0 1323.0,2062.9 C1324.4,2085.8 1325.8,2109.1 1327.4,2128.8 C1328.7,2145.0 1330.1,2157.3 1331.8,2172.8 C1333.7,2190.1 1336.6,2212.4 1338.4,2227.7 C1339.7,2238.8 1340.0,2251.0 1341.6,2256.3 C1342.2,2258.5 1343.1,2259.2 1343.8,2260.7" fill="none" stroke="#ff0000" stroke-width="1.9" stroke-linejoin="round"/>
<path d="M1343.8,2260.7 L1338.8,2265.1 L1343.2,2269.5" fill="none" stroke="#ff0000" stroke-width="1.9" stroke-linejoin="round"/>
<path d="M1343.2,2269.5 C1344.5,2277.6 1345.5,2285.3 1347.1,2293.7 C1348.9,2302.9 1351.1,2313.0 1353.7,2322.3 C1356.2,2331.3 1358.7,2341.2 1362.5,2348.6 C1365.6,2354.7 1368.9,2360.7 1373.5,2364.0 C1377.6,2366.9 1383.0,2366.9 1387.8,2368.4" fill="none" stroke="#ff0000" stroke-width="1.9" stroke-linejoin="round"/>
<path d="M1387.8,2368.4 C1383.0,2369.5 1378.0,2369.9 1373.5,2371.7 C1368.9,2373.5 1364.2,2376.3 1360.3,2379.4 C1356.5,2382.4 1352.8,2386.1 1350.4,2390.0 C1348.1,2393.7 1347.5,2398.1 1346.0,2402.1" fill="none" stroke="#ff0000" stroke-width="1.9" stroke-linejoin="round"/>
<path d="M1346.0,2402.1 L1349.3,2405.4 L1377.9,2407.6 L1380.0,2410.0" fill="none" stroke="#ff0000" stroke-width="1.9" stroke-linejoin="round"/>
<path d="M1380.0,2410.0 C1381.5,2413.6 1382.2,2416.8 1384.5,2420.8 C1387.9,2426.6 1393.7,2435.2 1399.9,2440.5 C1406.1,2445.8 1413.6,2449.6 1421.9,2452.6 C1431.5,2456.1 1441.9,2457.6 1454.8,2459.2 C1472.7,2461.4 1498.1,2461.1 1519.7,2462.1" fill="none" stroke="#ff0000" stroke-width="1.9" stroke-linejoin="round"/>
<path d="M1519.7,2462.1 C1505.4,2462.8 1491.2,2463.0 1476.8,2464.3 C1462.2,2465.7 1446.8,2467.0 1432.9,2470.2 C1419.8,2473.2 1406.8,2477.1 1395.5,2482.3 C1385.0,2487.1 1375.5,2493.1 1366.9,2499.9 C1358.7,2506.4 1351.6,2515.3 1344.9,2521.9 C1339.4,2527.4 1334.7,2531.8 1329.6,2536.8" fill="none" stroke="#ff0000" stroke-width="1.9" stroke-linejoin="round"/>
<path d="M1329.6,2536.8 L1417.5,2540.5 L1430.7,2548.2" fill="none" stroke="#ff0000" stroke-width="1.9" stroke-linejoin="round"/>
<path d="M1430.7,2548.2 C1438.7,2551.9 1446.0,2556.2 1454.8,2559.2 C1464.8,2562.6 1474.5,2565.0 1487.8,2566.9 C1507.6,2569.8 1537.6,2569.8 1562.5,2571.3" fill="none" stroke="#ff0000" stroke-width="1.9" stroke-linejoin="round"/>
<path d="M1562.5,2571.3 C1544.9,2572.3 1525.3,2572.7 1509.8,2574.2 C1497.5,2575.4 1485.5,2576.0 1476.8,2579.0 C1470.4,2581.2 1462.0,2584.9 1461.4,2587.8 C1461.0,2589.6 1463.1,2591.8 1465.8,2593.3 C1472.4,2596.9 1493.7,2596.2 1507.6,2597.7" fill="none" stroke="#ff0000" stroke-width="1.9" stroke-linejoin="round"/>
<path d="M1507.6,2597.7 C1493.7,2598.8 1478.8,2599.2 1465.8,2601.0 C1454.1,2602.6 1442.6,2604.3 1432.9,2607.6 C1424.6,2610.4 1418.1,2614.3 1410.9,2618.6 C1403.4,2623.1 1395.4,2628.6 1388.9,2634.0 C1383.1,2638.9 1378.3,2643.8 1373.5,2649.3 C1368.7,2654.8 1364.5,2660.4 1360.3,2666.9 C1355.6,2674.2 1351.3,2682.4 1347.1,2691.1 C1342.5,2700.6 1338.0,2711.4 1334.0,2721.9 C1329.9,2732.6 1326.8,2744.3 1323.0,2754.8 C1319.4,2764.7 1315.3,2774.3 1312.0,2783.4 C1309.1,2791.5 1306.9,2798.8 1304.3,2806.5" fill="none" stroke="#ff0000" stroke-width="1.9" stroke-linejoin="round"/>
<text x="121.4" y="2003.2" font-size="54" text-anchor="end">2.8</text>
<text x="121.4" y="2314.2" font-size="54" text-anchor="end">2.4</text>
<text x="121.4" y="2625.2" font-size="54" text-anchor="end">2.0</text>
<text transform="translate(1349.0,1933.5) rotate(90)" font-size="36">0.2</text>
<text transform="translate(1445.8,1933.5) rotate(90)" font-size="36">0.3</text>
<text transform="translate(1542.6,1933.5) rotate(90)" font-size="36">0.4</text>
<text x="126.9" y="2865.4" font-size="70" text-anchor="middle">Γ</text>
<text x="642.9" y="2859.5" font-size="70" text-anchor="middle">X</text>
<text x="770.7" y="2858.6" font-size="70" text-anchor="middle">M</text>
<text x="1306.4" y="2862.6" font-size="70" text-anchor="middle">Γ</text>
<text x="1428.7" y="2071.5" font-size="86">DOS</text>
<text transform="translate(81,2142.2) rotate(-90)" font-size="67">[eV]</text>
<text transform="translate(80.5,2218.4) rotate(-90)" font-size="70" font-style="italic">E</text>
<text transform="translate(103,2180.7) rotate(-90)" font-size="42" font-weight="bold">k</text>
<text x="197.0" y="2319.3" font-size="71" font-style="italic">E</text>
<text x="237.9" y="2285.6" font-size="42" font-style="italic">4</text>
<text x="234.1" y="2342.6" font-size="43" font-style="italic">vHs</text>
<text x="218.3" y="2429.2" font-size="71" font-style="italic">E</text>
<text x="255.8" y="2396.9" font-size="42" font-style="italic">3</text>
<text x="255.4" y="2453.9" font-size="43" font-style="italic">vHs</text>
<text x="170.9" y="2534.3" font-size="71" font-style="italic">E</text>
<text x="207.7" y="2501.3" font-size="42" font-style="italic">2</text>
<text x="208.7" y="2558.3" font-size="43" font-style="italic">vHs</text>
<text x="246.5" y="2672.2" font-size="71" font-style="italic">E</text>
<text x="285.9" y="2639.1" font-size="42" font-style="italic">1</text>
<text x="284.0" y="2695.3" font-size="43" font-style="italic">vHs</text>
</svg>
</body></html>
